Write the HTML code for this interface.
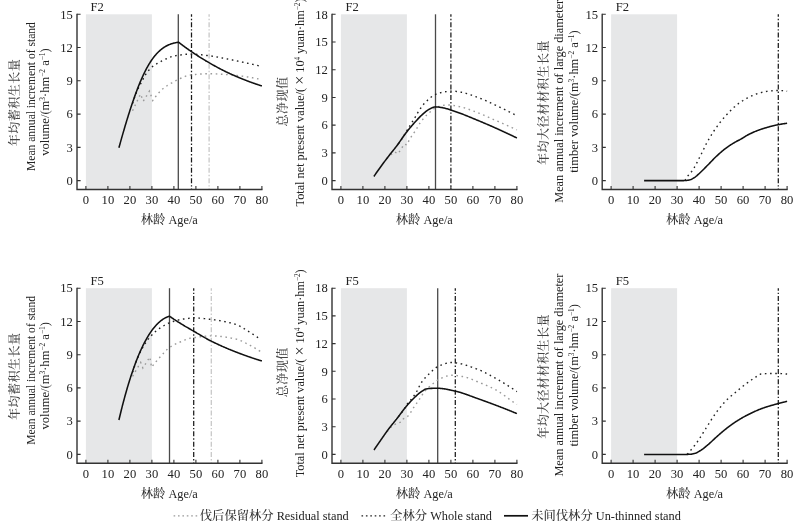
<!DOCTYPE html>
<html lang="zh"><head><meta charset="utf-8"><title>Figure</title>
<style>
html,body{margin:0;padding:0;background:#fff;}
body{width:800px;height:523px;overflow:hidden;}
svg{display:block;}
text{font-family:"Liberation Serif","Noto Serif CJK SC",serif;fill:#222;}
.tk{font-size:12.6px;}
.xl{font-size:12.3px;}
.lg{font-size:12.3px;}
.ylat{font-size:12.3px;}
.ycjk{font-size:12.1px;letter-spacing:0.4px;font-family:"Liberation Serif","Noto Serif CJK SC",serif;fill:#444;font-weight:500;}
.cjk{font-family:"Liberation Serif","Noto Serif CJK SC",serif;fill:#333;font-weight:500;}
.sup{font-size:7.2px;}
.tm{font-size:16px;}
</style></head><body>
<svg width="800" height="523" viewBox="0 0 800 523">
<rect width="800" height="523" fill="#fff"/>
<g>
<rect x="85.9" y="14.3" width="66.0" height="175.2" fill="#e6e7e8"/>
<line x1="178.30" y1="14.3" x2="178.30" y2="189.5" stroke="#4a4a4a" stroke-width="1.3"/>
<line x1="191.50" y1="14.3" x2="191.50" y2="189.5" stroke="#1a1a1a" stroke-width="1.25" stroke-dasharray="5 2 1.4 2" stroke-dashoffset="2.5"/>
<line x1="209.10" y1="14.3" x2="209.10" y2="189.5" stroke="#c6c6c6" stroke-width="1.25" stroke-dasharray="5 2 1.4 2" stroke-dashoffset="2.5"/>
<path d="M132.54,110.75 L140.46,94.12 L143.32,101.11 L149.48,91.13 L152.78,100.55 L152.78,100.55 L153.33,99.77 L153.88,99.01 L154.43,98.26 L154.97,97.52 L155.52,96.79 L156.07,96.08 L156.62,95.39 L157.17,94.71 L157.72,94.05 L158.26,93.41 L158.81,92.78 L159.36,92.17 L159.91,91.58 L160.46,91.01 L161.01,90.46 L161.55,89.94 L162.10,89.43 L162.65,88.94 L163.20,88.48 L163.75,88.03 L164.30,87.61 L164.84,87.20 L165.39,86.81 L165.94,86.43 L166.49,86.07 L167.04,85.72 L167.59,85.37 L168.13,85.04 L168.68,84.71 L169.23,84.39 L169.78,84.08 L170.33,83.76 L170.88,83.45 L171.42,83.13 L171.97,82.82 L172.52,82.50 L173.07,82.18 L173.62,81.86 L174.17,81.54 L174.71,81.23 L175.26,80.92 L175.81,80.62 L176.36,80.33 L176.91,80.05 L177.46,79.77 L178.00,79.51 L178.55,79.27 L179.10,79.02 L179.65,78.77 L180.20,78.51 L180.75,78.26 L181.29,78.01 L181.84,77.76 L182.39,77.52 L182.94,77.28 L183.49,77.04 L184.04,76.81 L184.58,76.60 L185.13,76.39 L185.68,76.19 L186.23,76.00 L186.78,75.83 L187.33,75.67 L187.87,75.52 L188.42,75.40 L188.97,75.29 L189.52,75.20 L190.07,75.12 L190.62,75.05 L191.16,74.98 L191.71,74.92 L192.26,74.85 L192.81,74.78 L193.36,74.72 L193.91,74.66 L194.45,74.60 L195.00,74.54 L195.55,74.48 L196.10,74.42 L196.65,74.37 L197.20,74.32 L197.74,74.27 L198.29,74.22 L198.84,74.17 L199.39,74.13 L199.94,74.09 L200.49,74.05 L201.03,74.01 L201.58,73.97 L202.13,73.94 L202.68,73.91 L203.23,73.88 L203.78,73.85 L204.32,73.83 L204.87,73.81 L205.42,73.79 L205.97,73.77 L206.52,73.76 L207.07,73.74 L207.61,73.73 L208.16,73.73 L208.71,73.73 L209.26,73.72 L209.81,73.73 L210.36,73.73 L210.90,73.74 L211.45,73.75 L212.00,73.76 L212.55,73.77 L213.10,73.78 L213.65,73.80 L214.19,73.82 L214.74,73.84 L215.29,73.86 L215.84,73.88 L216.39,73.91 L216.94,73.94 L217.48,73.96 L218.03,73.99 L218.58,74.02 L219.13,74.06 L219.68,74.09 L220.23,74.12 L220.77,74.16 L221.32,74.20 L221.87,74.23 L222.42,74.27 L222.97,74.31 L223.52,74.35 L224.06,74.39 L224.61,74.43 L225.16,74.48 L225.71,74.52 L226.26,74.56 L226.81,74.60 L227.35,74.65 L227.90,74.69 L228.45,74.73 L229.00,74.78 L229.55,74.82 L230.10,74.86 L230.64,74.91 L231.19,74.95 L231.74,75.00 L232.29,75.04 L232.84,75.09 L233.39,75.14 L233.93,75.19 L234.48,75.24 L235.03,75.30 L235.58,75.35 L236.13,75.41 L236.68,75.47 L237.22,75.53 L237.77,75.59 L238.32,75.66 L238.87,75.72 L239.42,75.79 L239.97,75.86 L240.51,75.93 L241.06,76.00 L241.61,76.07 L242.16,76.15 L242.71,76.22 L243.26,76.30 L243.80,76.38 L244.35,76.46 L244.90,76.54 L245.45,76.62 L246.00,76.70 L246.55,76.79 L247.09,76.87 L247.64,76.96 L248.19,77.05 L248.74,77.14 L249.29,77.23 L249.84,77.32 L250.38,77.41 L250.93,77.51 L251.48,77.60 L252.03,77.70 L252.58,77.80 L253.13,77.89 L253.67,77.99 L254.22,78.09 L254.77,78.20 L255.32,78.30 L255.87,78.40 L256.42,78.51 L256.96,78.61 L257.51,78.72 L258.06,78.83 L258.61,78.93 L259.16,79.04 L259.71,79.15 L260.25,79.26 L260.80,79.37 L261.35,79.49 L261.90,79.60" fill="none" stroke="#9a9a9a" stroke-width="1.4" stroke-dasharray="1.6 3.6"/>
<path d="M132.54,103.44 L133.19,101.44 L133.84,99.51 L134.49,97.65 L135.14,95.86 L135.79,94.14 L136.44,92.51 L137.09,90.96 L137.74,89.50 L138.39,88.13 L139.04,86.82 L139.69,85.56 L140.34,84.33 L140.99,83.11 L141.64,81.89 L142.29,80.63 L142.94,79.37 L143.59,78.12 L144.24,76.90 L144.89,75.75 L145.54,74.69 L146.19,73.73 L146.84,72.82 L147.49,71.95 L148.14,71.12 L148.79,70.32 L149.44,69.56 L150.09,68.85 L150.74,68.17 L151.39,67.54 L152.04,66.95 L152.69,66.41 L153.34,65.93 L153.99,65.48 L154.64,65.05 L155.29,64.63 L155.94,64.23 L156.59,63.83 L157.24,63.44 L157.89,63.06 L158.54,62.69 L159.19,62.33 L159.84,61.97 L160.49,61.63 L161.14,61.29 L161.79,60.96 L162.44,60.64 L163.09,60.32 L163.74,60.01 L164.39,59.69 L165.04,59.37 L165.69,59.06 L166.34,58.75 L166.99,58.45 L167.64,58.15 L168.29,57.86 L168.94,57.59 L169.59,57.33 L170.24,57.08 L170.89,56.86 L171.54,56.65 L172.19,56.47 L172.84,56.31 L173.49,56.16 L174.14,56.02 L174.79,55.89 L175.44,55.77 L176.09,55.66 L176.74,55.55 L177.39,55.45 L178.04,55.36 L178.69,55.27 L179.34,55.17 L179.99,55.08 L180.64,54.98 L181.29,54.89 L181.94,54.79 L182.59,54.70 L183.24,54.61 L183.89,54.53 L184.54,54.45 L185.19,54.37 L185.84,54.31 L186.49,54.25 L187.14,54.20 L187.79,54.16 L188.44,54.13 L189.09,54.11 L189.74,54.10 L190.39,54.10 L191.04,54.10 L191.69,54.10 L192.34,54.11 L192.99,54.12 L193.64,54.14 L194.29,54.17 L194.94,54.20 L195.59,54.24 L196.24,54.28 L196.89,54.33 L197.55,54.39 L198.20,54.45 L198.85,54.51 L199.50,54.58 L200.15,54.65 L200.80,54.72 L201.45,54.79 L202.10,54.87 L202.75,54.95 L203.40,55.03 L204.05,55.12 L204.70,55.20 L205.35,55.28 L206.00,55.37 L206.65,55.45 L207.30,55.54 L207.95,55.62 L208.60,55.70 L209.25,55.78 L209.90,55.86 L210.55,55.95 L211.20,56.04 L211.85,56.13 L212.50,56.23 L213.15,56.33 L213.80,56.43 L214.45,56.54 L215.10,56.65 L215.75,56.76 L216.40,56.87 L217.05,56.99 L217.70,57.10 L218.35,57.22 L219.00,57.34 L219.65,57.47 L220.30,57.59 L220.95,57.72 L221.60,57.84 L222.25,57.97 L222.90,58.10 L223.55,58.23 L224.20,58.36 L224.85,58.49 L225.50,58.63 L226.15,58.76 L226.80,58.89 L227.45,59.02 L228.10,59.15 L228.75,59.28 L229.40,59.42 L230.05,59.55 L230.70,59.68 L231.35,59.80 L232.00,59.93 L232.65,60.06 L233.30,60.19 L233.95,60.32 L234.60,60.46 L235.25,60.59 L235.90,60.72 L236.55,60.85 L237.20,60.99 L237.85,61.12 L238.50,61.26 L239.15,61.39 L239.80,61.53 L240.45,61.66 L241.10,61.80 L241.75,61.94 L242.40,62.08 L243.05,62.22 L243.70,62.36 L244.35,62.50 L245.00,62.64 L245.65,62.78 L246.30,62.92 L246.95,63.07 L247.60,63.21 L248.25,63.35 L248.90,63.50 L249.55,63.64 L250.20,63.79 L250.85,63.93 L251.50,64.08 L252.15,64.23 L252.80,64.38 L253.45,64.53 L254.10,64.68 L254.75,64.83 L255.40,64.98 L256.05,65.13 L256.70,65.28 L257.35,65.43 L258.00,65.59 L258.65,65.74 L259.30,65.89 L259.95,66.05 L260.60,66.21 L261.25,66.36 L261.90,66.52" fill="none" stroke="#222" stroke-width="1.4" stroke-dasharray="1.6 3.6"/>
<path d="M118.90,147.82 L119.40,146.00 L119.90,144.20 L120.40,142.41 L120.90,140.63 L121.40,138.86 L121.89,137.09 L122.39,135.34 L122.89,133.61 L123.39,131.88 L123.89,130.17 L124.39,128.46 L124.89,126.77 L125.39,125.09 L125.89,123.43 L126.39,121.78 L126.89,120.14 L127.39,118.51 L127.88,116.90 L128.38,115.30 L128.88,113.72 L129.38,112.15 L129.88,110.59 L130.38,109.05 L130.88,107.52 L131.38,106.01 L131.88,104.52 L132.38,103.04 L132.88,101.57 L133.38,100.13 L133.87,98.69 L134.37,97.28 L134.87,95.88 L135.37,94.50 L135.87,93.14 L136.37,91.79 L136.87,90.46 L137.37,89.15 L137.87,87.86 L138.37,86.58 L138.87,85.33 L139.37,84.09 L139.86,82.87 L140.36,81.67 L140.86,80.49 L141.36,79.33 L141.86,78.19 L142.36,77.07 L142.86,75.97 L143.36,74.89 L143.86,73.84 L144.36,72.80 L144.86,71.78 L145.36,70.79 L145.85,69.82 L146.35,68.87 L146.85,67.94 L147.35,67.03 L147.85,66.14 L148.35,65.28 L148.85,64.43 L149.35,63.61 L149.85,62.81 L150.35,62.02 L150.85,61.26 L151.35,60.52 L151.84,59.79 L152.34,59.08 L152.84,58.40 L153.34,57.73 L153.84,57.08 L154.34,56.45 L154.84,55.83 L155.34,55.23 L155.84,54.65 L156.34,54.09 L156.84,53.54 L157.34,53.01 L157.83,52.50 L158.33,52.00 L158.83,51.52 L159.33,51.06 L159.83,50.60 L160.33,50.17 L160.83,49.75 L161.33,49.34 L161.83,48.95 L162.33,48.57 L162.83,48.20 L163.33,47.85 L163.82,47.51 L164.32,47.19 L164.82,46.87 L165.32,46.57 L165.82,46.28 L166.32,46.01 L166.82,45.74 L167.32,45.49 L167.82,45.25 L168.32,45.02 L168.82,44.80 L169.32,44.59 L169.81,44.39 L170.31,44.20 L170.81,44.01 L171.31,43.84 L171.81,43.68 L172.31,43.53 L172.81,43.38 L173.31,43.25 L173.81,43.12 L174.31,43.00 L174.81,42.89 L175.31,42.78 L175.80,42.68 L176.30,42.59 L176.80,42.51 L177.30,42.43 L177.80,42.36 L178.30,42.29 L178.30,42.02 L178.72,42.34 L179.14,42.67 L179.56,42.99 L179.98,43.31 L180.40,43.63 L180.82,43.95 L181.24,44.27 L181.66,44.59 L182.08,44.90 L182.50,45.22 L182.92,45.53 L183.34,45.85 L183.76,46.16 L184.18,46.47 L184.60,46.78 L185.02,47.09 L185.44,47.39 L185.86,47.70 L186.28,48.00 L186.70,48.30 L187.12,48.61 L187.54,48.91 L187.96,49.21 L188.38,49.50 L188.80,49.80 L189.22,50.09 L189.64,50.39 L190.06,50.68 L190.48,50.97 L190.90,51.26 L191.32,51.54 L191.74,51.83 L192.16,52.11 L192.58,52.40 L193.00,52.68 L193.42,52.96 L193.84,53.24 L194.26,53.52 L194.68,53.80 L195.10,54.08 L195.52,54.36 L195.94,54.63 L196.36,54.91 L196.78,55.18 L197.20,55.46 L197.62,55.73 L198.04,56.00 L198.46,56.27 L198.88,56.54 L199.31,56.81 L199.73,57.08 L200.15,57.34 L200.57,57.61 L200.99,57.87 L201.41,58.14 L201.83,58.40 L202.25,58.66 L202.67,58.92 L203.09,59.18 L203.51,59.44 L203.93,59.69 L204.35,59.95 L204.77,60.20 L205.19,60.46 L205.61,60.71 L206.03,60.96 L206.45,61.21 L206.87,61.45 L207.29,61.70 L207.71,61.95 L208.13,62.19 L208.55,62.43 L208.97,62.67 L209.39,62.91 L209.81,63.15 L210.23,63.39 L210.65,63.63 L211.07,63.87 L211.49,64.10 L211.91,64.34 L212.33,64.58 L212.75,64.81 L213.17,65.05 L213.59,65.28 L214.01,65.52 L214.43,65.75 L214.85,65.98 L215.27,66.21 L215.69,66.44 L216.11,66.67 L216.53,66.90 L216.95,67.13 L217.37,67.36 L217.79,67.58 L218.21,67.81 L218.63,68.03 L219.05,68.25 L219.47,68.48 L219.89,68.70 L220.31,68.92 L220.73,69.14 L221.15,69.36 L221.57,69.57 L221.99,69.79 L222.41,70.01 L222.83,70.22 L223.25,70.43 L223.67,70.64 L224.09,70.85 L224.51,71.06 L224.93,71.27 L225.35,71.48 L225.77,71.68 L226.19,71.89 L226.61,72.09 L227.03,72.29 L227.45,72.49 L227.87,72.69 L228.29,72.89 L228.71,73.08 L229.13,73.28 L229.55,73.47 L229.97,73.66 L230.39,73.85 L230.81,74.04 L231.23,74.23 L231.65,74.41 L232.07,74.60 L232.49,74.78 L232.91,74.97 L233.33,75.15 L233.75,75.33 L234.17,75.52 L234.59,75.70 L235.01,75.88 L235.43,76.06 L235.85,76.24 L236.27,76.42 L236.69,76.60 L237.11,76.78 L237.53,76.96 L237.95,77.14 L238.37,77.31 L238.79,77.49 L239.21,77.66 L239.63,77.84 L240.05,78.01 L240.47,78.19 L240.89,78.36 L241.32,78.53 L241.74,78.70 L242.16,78.87 L242.58,79.04 L243.00,79.21 L243.42,79.38 L243.84,79.55 L244.26,79.71 L244.68,79.88 L245.10,80.04 L245.52,80.21 L245.94,80.37 L246.36,80.54 L246.78,80.70 L247.20,80.86 L247.62,81.02 L248.04,81.18 L248.46,81.34 L248.88,81.50 L249.30,81.65 L249.72,81.81 L250.14,81.96 L250.56,82.12 L250.98,82.27 L251.40,82.42 L251.82,82.58 L252.24,82.73 L252.66,82.88 L253.08,83.03 L253.50,83.17 L253.92,83.32 L254.34,83.47 L254.76,83.61 L255.18,83.76 L255.60,83.90 L256.02,84.04 L256.44,84.18 L256.86,84.32 L257.28,84.46 L257.70,84.60 L258.12,84.74 L258.54,84.87 L258.96,85.01 L259.38,85.14 L259.80,85.27 L260.22,85.40 L260.64,85.54 L261.06,85.66 L261.48,85.79 L261.90,85.92" fill="none" stroke="#111" stroke-width="1.55" stroke-linejoin="round"/>
<path d="M77.0,13.8 V189.5 H262.5" stroke="#333" stroke-width="1.4" fill="none" stroke-linejoin="miter"/>
<text class="tk" x="72.9" y="184.8" text-anchor="end">0</text>
<text class="tk" x="72.9" y="151.5" text-anchor="end">3</text>
<text class="tk" x="72.9" y="118.3" text-anchor="end">6</text>
<text class="tk" x="72.9" y="85.0" text-anchor="end">9</text>
<text class="tk" x="72.9" y="51.8" text-anchor="end">12</text>
<text class="tk" x="72.9" y="18.5" text-anchor="end">15</text>
<path d="M77.0,180.60 h3.6 M77.0,147.34 h3.6 M77.0,114.08 h3.6 M77.0,80.82 h3.6 M77.0,47.56 h3.6 M77.0,14.30 h3.6 " stroke="#333" stroke-width="1.1" fill="none"/>
<text class="tk" x="85.9" y="204.1" text-anchor="middle">0</text>
<text class="tk" x="107.9" y="204.1" text-anchor="middle">10</text>
<text class="tk" x="129.9" y="204.1" text-anchor="middle">20</text>
<text class="tk" x="151.9" y="204.1" text-anchor="middle">30</text>
<text class="tk" x="173.9" y="204.1" text-anchor="middle">40</text>
<text class="tk" x="195.9" y="204.1" text-anchor="middle">50</text>
<text class="tk" x="217.9" y="204.1" text-anchor="middle">60</text>
<text class="tk" x="239.9" y="204.1" text-anchor="middle">70</text>
<text class="tk" x="261.9" y="204.1" text-anchor="middle">80</text>
<path d="M85.90,189.5 v-3.6 M107.90,189.5 v-3.6 M129.90,189.5 v-3.6 M151.90,189.5 v-3.6 M173.90,189.5 v-3.6 M195.90,189.5 v-3.6 M217.90,189.5 v-3.6 M239.90,189.5 v-3.6 M261.90,189.5 v-3.6 " stroke="#333" stroke-width="1.1" fill="none"/>
<text class="tk" x="90.5" y="10.7">F2</text>
<text class="xl" x="169.3" y="223.9" text-anchor="middle"><tspan class="cjk">林龄</tspan> Age/a</text>
<text class="ycjk" transform="translate(19.0,102.5) rotate(-90)" text-anchor="middle">年均蓄积生长量</text>
<text class="ylat" transform="translate(34.9,96.6) rotate(-90)" text-anchor="middle" textLength="148.8" lengthAdjust="spacingAndGlyphs">Mean annual increment of stand</text>
<text class="ylat" transform="translate(48.6,102.0) rotate(-90)" text-anchor="middle" textLength="107.5" lengthAdjust="spacingAndGlyphs">volume/(m<tspan class="sup" dy="-4">3</tspan><tspan dy="4">·hm</tspan><tspan class="sup" dy="-4">−2</tspan><tspan dy="4"> a</tspan><tspan class="sup" dy="-4">−1</tspan><tspan dy="4">)</tspan></text>
</g>
<g>
<rect x="340.9" y="14.3" width="66.0" height="175.2" fill="#e6e7e8"/>
<line x1="435.50" y1="14.3" x2="435.50" y2="189.5" stroke="#4a4a4a" stroke-width="1.3"/>
<line x1="450.90" y1="14.3" x2="450.90" y2="189.5" stroke="#1a1a1a" stroke-width="1.25" stroke-dasharray="5 2 1.4 2" stroke-dashoffset="2.5"/>
<path d="M387.10,158.43 L389.96,155.47 L394.58,151.96 L398.10,153.62 L404.26,144.11 L406.90,144.85 L406.90,144.85 L407.45,143.64 L408.01,142.47 L408.56,141.34 L409.11,140.27 L409.66,139.27 L410.22,138.34 L410.77,137.46 L411.32,136.62 L411.87,135.80 L412.43,135.01 L412.98,134.23 L413.53,133.45 L414.09,132.65 L414.64,131.84 L415.19,131.00 L415.74,130.13 L416.30,129.26 L416.85,128.37 L417.40,127.46 L417.96,126.55 L418.51,125.60 L419.06,124.59 L419.61,123.61 L420.17,122.77 L420.72,122.01 L421.27,121.28 L421.82,120.58 L422.38,119.89 L422.93,119.22 L423.48,118.58 L424.04,117.95 L424.59,117.34 L425.14,116.74 L425.69,116.16 L426.25,115.60 L426.80,115.05 L427.35,114.51 L427.91,113.98 L428.46,113.47 L429.01,112.96 L429.56,112.46 L430.12,111.98 L430.67,111.50 L431.22,111.02 L431.77,110.56 L432.33,110.09 L432.88,109.61 L433.43,109.15 L433.99,108.71 L434.54,108.31 L435.09,107.99 L435.64,107.74 L436.20,107.53 L436.75,107.32 L437.30,107.11 L437.85,106.91 L438.41,106.72 L438.96,106.53 L439.51,106.35 L440.07,106.18 L440.62,106.02 L441.17,105.87 L441.72,105.72 L442.28,105.59 L442.83,105.47 L443.38,105.36 L443.94,105.26 L444.49,105.17 L445.04,105.10 L445.59,105.03 L446.15,104.99 L446.70,104.95 L447.25,104.94 L447.80,104.93 L448.36,104.94 L448.91,104.97 L449.46,105.00 L450.02,105.04 L450.57,105.09 L451.12,105.15 L451.67,105.22 L452.23,105.29 L452.78,105.37 L453.33,105.46 L453.88,105.55 L454.44,105.65 L454.99,105.75 L455.54,105.86 L456.10,105.96 L456.65,106.07 L457.20,106.19 L457.75,106.30 L458.31,106.41 L458.86,106.52 L459.41,106.63 L459.97,106.74 L460.52,106.86 L461.07,106.98 L461.62,107.11 L462.18,107.25 L462.73,107.39 L463.28,107.54 L463.83,107.70 L464.39,107.86 L464.94,108.03 L465.49,108.20 L466.05,108.38 L466.60,108.56 L467.15,108.74 L467.70,108.93 L468.26,109.12 L468.81,109.32 L469.36,109.52 L469.92,109.72 L470.47,109.92 L471.02,110.13 L471.57,110.33 L472.13,110.54 L472.68,110.75 L473.23,110.96 L473.78,111.17 L474.34,111.39 L474.89,111.60 L475.44,111.81 L476.00,112.02 L476.55,112.23 L477.10,112.43 L477.65,112.64 L478.21,112.85 L478.76,113.07 L479.31,113.29 L479.86,113.51 L480.42,113.73 L480.97,113.96 L481.52,114.19 L482.08,114.42 L482.63,114.65 L483.18,114.89 L483.73,115.13 L484.29,115.37 L484.84,115.61 L485.39,115.85 L485.95,116.09 L486.50,116.34 L487.05,116.59 L487.60,116.83 L488.16,117.08 L488.71,117.33 L489.26,117.58 L489.81,117.82 L490.37,118.07 L490.92,118.32 L491.47,118.57 L492.03,118.82 L492.58,119.06 L493.13,119.31 L493.68,119.55 L494.24,119.80 L494.79,120.04 L495.34,120.28 L495.89,120.52 L496.45,120.76 L497.00,121.00 L497.55,121.24 L498.11,121.48 L498.66,121.73 L499.21,121.97 L499.76,122.21 L500.32,122.45 L500.87,122.69 L501.42,122.94 L501.98,123.18 L502.53,123.42 L503.08,123.66 L503.63,123.91 L504.19,124.15 L504.74,124.39 L505.29,124.64 L505.84,124.88 L506.40,125.12 L506.95,125.37 L507.50,125.61 L508.06,125.86 L508.61,126.10 L509.16,126.35 L509.71,126.59 L510.27,126.83 L510.82,127.08 L511.37,127.32 L511.93,127.57 L512.48,127.82 L513.03,128.06 L513.58,128.31 L514.14,128.55 L514.69,128.80 L515.24,129.05 L515.79,129.29 L516.35,129.54 L516.90,129.79" fill="none" stroke="#9a9a9a" stroke-width="1.4" stroke-dasharray="1.6 3.6"/>
<path d="M398.10,144.11 L398.70,143.31 L399.29,142.50 L399.89,141.66 L400.49,140.81 L401.08,139.95 L401.68,139.06 L402.28,138.16 L402.88,137.25 L403.47,136.33 L404.07,135.40 L404.67,134.46 L405.26,133.49 L405.86,132.48 L406.46,131.46 L407.05,130.45 L407.65,129.45 L408.25,128.46 L408.85,127.46 L409.44,126.48 L410.04,125.50 L410.64,124.53 L411.23,123.57 L411.83,122.63 L412.43,121.70 L413.02,120.75 L413.62,119.80 L414.22,118.81 L414.82,117.79 L415.41,116.76 L416.01,115.72 L416.61,114.68 L417.20,113.65 L417.80,112.63 L418.40,111.64 L418.99,110.67 L419.59,109.75 L420.19,108.87 L420.79,108.02 L421.38,107.18 L421.98,106.36 L422.58,105.56 L423.17,104.79 L423.77,104.06 L424.37,103.37 L424.96,102.73 L425.56,102.13 L426.16,101.54 L426.76,100.95 L427.35,100.38 L427.95,99.81 L428.55,99.26 L429.14,98.72 L429.74,98.20 L430.34,97.70 L430.93,97.22 L431.53,96.76 L432.13,96.32 L432.73,95.91 L433.32,95.53 L433.92,95.18 L434.52,94.85 L435.11,94.57 L435.71,94.32 L436.31,94.08 L436.90,93.85 L437.50,93.64 L438.10,93.43 L438.69,93.23 L439.29,93.05 L439.89,92.87 L440.49,92.71 L441.08,92.56 L441.68,92.41 L442.28,92.28 L442.87,92.16 L443.47,92.05 L444.07,91.94 L444.66,91.85 L445.26,91.76 L445.86,91.66 L446.46,91.57 L447.05,91.49 L447.65,91.41 L448.25,91.33 L448.84,91.26 L449.44,91.20 L450.04,91.15 L450.63,91.11 L451.23,91.09 L451.83,91.08 L452.43,91.08 L453.02,91.10 L453.62,91.13 L454.22,91.17 L454.81,91.23 L455.41,91.29 L456.01,91.37 L456.60,91.45 L457.20,91.54 L457.80,91.63 L458.40,91.73 L458.99,91.84 L459.59,91.95 L460.19,92.06 L460.78,92.16 L461.38,92.27 L461.98,92.38 L462.57,92.50 L463.17,92.62 L463.77,92.75 L464.37,92.90 L464.96,93.05 L465.56,93.21 L466.16,93.37 L466.75,93.55 L467.35,93.73 L467.95,93.92 L468.54,94.11 L469.14,94.31 L469.74,94.51 L470.34,94.71 L470.93,94.93 L471.53,95.14 L472.13,95.35 L472.72,95.57 L473.32,95.79 L473.92,96.01 L474.51,96.24 L475.11,96.46 L475.71,96.68 L476.31,96.90 L476.90,97.12 L477.50,97.34 L478.10,97.56 L478.69,97.78 L479.29,98.01 L479.89,98.24 L480.48,98.48 L481.08,98.72 L481.68,98.96 L482.27,99.21 L482.87,99.45 L483.47,99.71 L484.07,99.96 L484.66,100.22 L485.26,100.47 L485.86,100.73 L486.45,101.00 L487.05,101.26 L487.65,101.53 L488.24,101.79 L488.84,102.06 L489.44,102.33 L490.04,102.60 L490.63,102.88 L491.23,103.15 L491.83,103.42 L492.42,103.70 L493.02,103.97 L493.62,104.25 L494.21,104.52 L494.81,104.80 L495.41,105.08 L496.01,105.35 L496.60,105.63 L497.20,105.91 L497.80,106.19 L498.39,106.47 L498.99,106.76 L499.59,107.04 L500.18,107.33 L500.78,107.61 L501.38,107.90 L501.98,108.19 L502.57,108.48 L503.17,108.77 L503.77,109.07 L504.36,109.36 L504.96,109.66 L505.56,109.96 L506.15,110.25 L506.75,110.55 L507.35,110.85 L507.95,111.16 L508.54,111.46 L509.14,111.76 L509.74,112.07 L510.33,112.38 L510.93,112.68 L511.53,112.99 L512.12,113.30 L512.72,113.62 L513.32,113.93 L513.92,114.24 L514.51,114.56 L515.11,114.88 L515.71,115.20 L516.30,115.51 L516.90,115.84" fill="none" stroke="#222" stroke-width="1.4" stroke-dasharray="1.6 3.6"/>
<path d="M373.90,176.44 L374.62,175.39 L375.34,174.35 L376.06,173.31 L376.77,172.28 L377.49,171.25 L378.21,170.23 L378.93,169.22 L379.65,168.22 L380.37,167.22 L381.09,166.22 L381.80,165.24 L382.52,164.26 L383.24,163.28 L383.96,162.32 L384.68,161.36 L385.40,160.40 L386.12,159.45 L386.83,158.50 L387.55,157.56 L388.27,156.63 L388.99,155.69 L389.71,154.76 L390.43,153.85 L391.15,152.95 L391.86,152.05 L392.58,151.16 L393.30,150.27 L394.02,149.38 L394.74,148.48 L395.46,147.56 L396.18,146.63 L396.89,145.68 L397.61,144.70 L398.33,143.70 L399.05,142.69 L399.77,141.66 L400.49,140.63 L401.21,139.59 L401.93,138.56 L402.64,137.52 L403.36,136.50 L404.08,135.49 L404.80,134.50 L405.52,133.52 L406.24,132.57 L406.96,131.65 L407.67,130.75 L408.39,129.85 L409.11,128.97 L409.83,128.09 L410.55,127.23 L411.27,126.38 L411.99,125.54 L412.70,124.71 L413.42,123.88 L414.14,123.07 L414.86,122.27 L415.58,121.48 L416.30,120.69 L417.02,119.91 L417.73,119.13 L418.45,118.36 L419.17,117.61 L419.89,116.88 L420.61,116.17 L421.33,115.49 L422.05,114.84 L422.76,114.19 L423.48,113.55 L424.20,112.91 L424.92,112.29 L425.64,111.69 L426.36,111.12 L427.08,110.59 L427.79,110.11 L428.51,109.67 L429.23,109.29 L429.95,108.90 L430.67,108.51 L431.39,108.13 L432.11,107.78 L432.82,107.47 L433.54,107.21 L434.26,107.01 L434.98,106.90 L435.70,106.87 L436.42,106.90 L437.14,106.94 L437.85,107.00 L438.57,107.09 L439.29,107.18 L440.01,107.29 L440.73,107.40 L441.45,107.51 L442.17,107.62 L442.88,107.75 L443.60,107.89 L444.32,108.06 L445.04,108.24 L445.76,108.43 L446.48,108.64 L447.20,108.85 L447.92,109.07 L448.63,109.30 L449.35,109.53 L450.07,109.75 L450.79,109.98 L451.51,110.21 L452.23,110.43 L452.95,110.67 L453.66,110.91 L454.38,111.15 L455.10,111.40 L455.82,111.65 L456.54,111.90 L457.26,112.16 L457.98,112.42 L458.69,112.68 L459.41,112.95 L460.13,113.22 L460.85,113.49 L461.57,113.77 L462.29,114.05 L463.01,114.33 L463.72,114.61 L464.44,114.89 L465.16,115.18 L465.88,115.47 L466.60,115.76 L467.32,116.05 L468.04,116.35 L468.75,116.64 L469.47,116.93 L470.19,117.23 L470.91,117.53 L471.63,117.83 L472.35,118.12 L473.07,118.42 L473.78,118.72 L474.50,119.02 L475.22,119.32 L475.94,119.62 L476.66,119.91 L477.38,120.21 L478.10,120.51 L478.81,120.81 L479.53,121.10 L480.25,121.40 L480.97,121.71 L481.69,122.01 L482.41,122.31 L483.13,122.61 L483.84,122.92 L484.56,123.22 L485.28,123.53 L486.00,123.84 L486.72,124.15 L487.44,124.46 L488.16,124.77 L488.87,125.08 L489.59,125.39 L490.31,125.71 L491.03,126.02 L491.75,126.33 L492.47,126.65 L493.19,126.97 L493.91,127.29 L494.62,127.61 L495.34,127.93 L496.06,128.25 L496.78,128.57 L497.50,128.89 L498.22,129.22 L498.94,129.54 L499.65,129.87 L500.37,130.20 L501.09,130.52 L501.81,130.85 L502.53,131.18 L503.25,131.52 L503.97,131.85 L504.68,132.18 L505.40,132.52 L506.12,132.85 L506.84,133.19 L507.56,133.53 L508.28,133.86 L509.00,134.20 L509.71,134.54 L510.43,134.89 L511.15,135.23 L511.87,135.57 L512.59,135.92 L513.31,136.26 L514.03,136.61 L514.74,136.96 L515.46,137.31 L516.18,137.66 L516.90,138.01" fill="none" stroke="#111" stroke-width="1.55" stroke-linejoin="round"/>
<path d="M332.0,13.8 V189.5 H517.5" stroke="#333" stroke-width="1.4" fill="none" stroke-linejoin="miter"/>
<text class="tk" x="327.9" y="184.8" text-anchor="end">0</text>
<text class="tk" x="327.9" y="157.1" text-anchor="end">3</text>
<text class="tk" x="327.9" y="129.4" text-anchor="end">6</text>
<text class="tk" x="327.9" y="101.7" text-anchor="end">9</text>
<text class="tk" x="327.9" y="73.9" text-anchor="end">12</text>
<text class="tk" x="327.9" y="46.2" text-anchor="end">15</text>
<text class="tk" x="327.9" y="18.5" text-anchor="end">18</text>
<path d="M332.0,180.60 h3.6 M332.0,152.88 h3.6 M332.0,125.17 h3.6 M332.0,97.45 h3.6 M332.0,69.73 h3.6 M332.0,42.02 h3.6 M332.0,14.30 h3.6 " stroke="#333" stroke-width="1.1" fill="none"/>
<text class="tk" x="340.9" y="204.1" text-anchor="middle">0</text>
<text class="tk" x="362.9" y="204.1" text-anchor="middle">10</text>
<text class="tk" x="384.9" y="204.1" text-anchor="middle">20</text>
<text class="tk" x="406.9" y="204.1" text-anchor="middle">30</text>
<text class="tk" x="428.9" y="204.1" text-anchor="middle">40</text>
<text class="tk" x="450.9" y="204.1" text-anchor="middle">50</text>
<text class="tk" x="472.9" y="204.1" text-anchor="middle">60</text>
<text class="tk" x="494.9" y="204.1" text-anchor="middle">70</text>
<text class="tk" x="516.9" y="204.1" text-anchor="middle">80</text>
<path d="M340.90,189.5 v-3.6 M362.90,189.5 v-3.6 M384.90,189.5 v-3.6 M406.90,189.5 v-3.6 M428.90,189.5 v-3.6 M450.90,189.5 v-3.6 M472.90,189.5 v-3.6 M494.90,189.5 v-3.6 M516.90,189.5 v-3.6 " stroke="#333" stroke-width="1.1" fill="none"/>
<text class="tk" x="345.5" y="10.7">F2</text>
<text class="xl" x="424.3" y="223.9" text-anchor="middle"><tspan class="cjk">林龄</tspan> Age/a</text>
<text class="ycjk" transform="translate(286.9,101.5) rotate(-90)" text-anchor="middle">总净现值</text>
<text class="ylat" transform="translate(303.8,102.5) rotate(-90)" text-anchor="middle" textLength="208" lengthAdjust="spacingAndGlyphs">Total net present value/( <tspan class="tm" dy="1.5">×</tspan><tspan dy="-1.5"> 10</tspan><tspan class="sup" dy="-4">4</tspan><tspan dy="4"> yuan·hm</tspan><tspan class="sup" dy="-4">−2</tspan><tspan dy="4">)</tspan></text>
</g>
<g>
<rect x="611.1" y="14.3" width="66.0" height="175.2" fill="#e6e7e8"/>
<line x1="778.30" y1="14.3" x2="778.30" y2="189.5" stroke="#1a1a1a" stroke-width="1.25" stroke-dasharray="5 2 1.4 2" stroke-dashoffset="2.5"/>
<path d="M685.02,180.60 L685.53,179.50 L686.05,178.51 L686.56,177.69 L687.07,176.94 L687.58,176.24 L688.10,175.59 L688.61,174.98 L689.12,174.39 L689.64,173.82 L690.15,173.25 L690.66,172.67 L691.18,172.07 L691.69,171.45 L692.20,170.78 L692.71,170.07 L693.23,169.30 L693.74,168.48 L694.25,167.62 L694.77,166.72 L695.28,165.80 L695.79,164.85 L696.31,163.87 L696.82,162.88 L697.33,161.87 L697.84,160.86 L698.36,159.83 L698.87,158.81 L699.38,157.79 L699.90,156.77 L700.41,155.77 L700.92,154.78 L701.43,153.76 L701.95,152.73 L702.46,151.68 L702.97,150.63 L703.49,149.57 L704.00,148.50 L704.51,147.44 L705.03,146.39 L705.54,145.34 L706.05,144.31 L706.56,143.30 L707.08,142.32 L707.59,141.36 L708.10,140.44 L708.62,139.54 L709.13,138.67 L709.64,137.80 L710.16,136.94 L710.67,136.10 L711.18,135.27 L711.69,134.44 L712.21,133.63 L712.72,132.83 L713.23,132.04 L713.75,131.26 L714.26,130.49 L714.77,129.73 L715.28,128.99 L715.80,128.25 L716.31,127.52 L716.82,126.80 L717.34,126.09 L717.85,125.39 L718.36,124.70 L718.88,124.02 L719.39,123.35 L719.90,122.68 L720.41,122.03 L720.93,121.38 L721.44,120.74 L721.95,120.10 L722.47,119.48 L722.98,118.86 L723.49,118.25 L724.01,117.65 L724.52,117.05 L725.03,116.47 L725.54,115.89 L726.06,115.32 L726.57,114.76 L727.08,114.21 L727.60,113.66 L728.11,113.13 L728.62,112.60 L729.13,112.08 L729.65,111.56 L730.16,111.05 L730.67,110.54 L731.19,110.03 L731.70,109.53 L732.21,109.03 L732.73,108.54 L733.24,108.06 L733.75,107.58 L734.26,107.11 L734.78,106.65 L735.29,106.19 L735.80,105.74 L736.32,105.30 L736.83,104.87 L737.34,104.45 L737.86,104.04 L738.37,103.65 L738.88,103.26 L739.39,102.88 L739.91,102.52 L740.42,102.16 L740.93,101.82 L741.45,101.48 L741.96,101.15 L742.47,100.82 L742.99,100.51 L743.50,100.19 L744.01,99.89 L744.52,99.59 L745.04,99.30 L745.55,99.01 L746.06,98.73 L746.58,98.45 L747.09,98.18 L747.60,97.92 L748.11,97.66 L748.63,97.41 L749.14,97.16 L749.65,96.91 L750.17,96.67 L750.68,96.43 L751.19,96.19 L751.71,95.95 L752.22,95.72 L752.73,95.49 L753.24,95.26 L753.76,95.04 L754.27,94.82 L754.78,94.60 L755.30,94.40 L755.81,94.20 L756.32,94.00 L756.84,93.81 L757.35,93.63 L757.86,93.46 L758.37,93.30 L758.89,93.15 L759.40,93.01 L759.91,92.88 L760.43,92.74 L760.94,92.61 L761.45,92.49 L761.96,92.36 L762.48,92.24 L762.99,92.12 L763.50,92.01 L764.02,91.90 L764.53,91.80 L765.04,91.70 L765.56,91.60 L766.07,91.51 L766.58,91.43 L767.09,91.35 L767.61,91.28 L768.12,91.21 L768.63,91.15 L769.15,91.10 L769.66,91.04 L770.17,90.99 L770.69,90.94 L771.20,90.88 L771.71,90.83 L772.22,90.78 L772.74,90.74 L773.25,90.69 L773.76,90.65 L774.28,90.61 L774.79,90.58 L775.30,90.55 L775.81,90.52 L776.33,90.50 L776.84,90.48 L777.35,90.47 L777.87,90.47 L778.38,90.47 L778.89,90.47 L779.41,90.48 L779.92,90.50 L780.43,90.52 L780.94,90.55 L781.46,90.58 L781.97,90.62 L782.48,90.66 L783.00,90.71 L783.51,90.76 L784.02,90.81 L784.54,90.87 L785.05,90.94 L785.56,91.01 L786.07,91.08 L786.59,91.16 L787.10,91.24" fill="none" stroke="#222" stroke-width="1.4" stroke-dasharray="1.6 3.6"/>
<path d="M644.10,180.60 L683.70,180.60 L683.70,180.60 L684.22,180.59 L684.74,180.57 L685.26,180.54 L685.78,180.50 L686.30,180.45 L686.82,180.40 L687.34,180.34 L687.86,180.27 L688.38,180.17 L688.90,180.06 L689.42,179.94 L689.94,179.80 L690.45,179.64 L690.97,179.44 L691.49,179.21 L692.01,178.95 L692.53,178.67 L693.05,178.37 L693.57,178.06 L694.09,177.74 L694.61,177.41 L695.13,177.06 L695.65,176.68 L696.17,176.26 L696.69,175.83 L697.21,175.38 L697.73,174.91 L698.25,174.43 L698.77,173.94 L699.29,173.44 L699.81,172.95 L700.33,172.46 L700.85,171.98 L701.37,171.50 L701.89,171.00 L702.41,170.50 L702.93,169.99 L703.44,169.48 L703.96,168.96 L704.48,168.44 L705.00,167.91 L705.52,167.39 L706.04,166.86 L706.56,166.33 L707.08,165.80 L707.60,165.27 L708.12,164.75 L708.64,164.22 L709.16,163.69 L709.68,163.15 L710.20,162.61 L710.72,162.06 L711.24,161.52 L711.76,160.97 L712.28,160.42 L712.80,159.88 L713.32,159.35 L713.84,158.82 L714.36,158.29 L714.88,157.78 L715.40,157.28 L715.92,156.79 L716.43,156.30 L716.95,155.82 L717.47,155.34 L717.99,154.86 L718.51,154.39 L719.03,153.91 L719.55,153.45 L720.07,152.98 L720.59,152.53 L721.11,152.07 L721.63,151.62 L722.15,151.18 L722.67,150.75 L723.19,150.32 L723.71,149.89 L724.23,149.48 L724.75,149.07 L725.27,148.66 L725.79,148.27 L726.31,147.89 L726.83,147.51 L727.35,147.14 L727.87,146.77 L728.39,146.41 L728.91,146.06 L729.42,145.71 L729.94,145.36 L730.46,145.02 L730.98,144.69 L731.50,144.36 L732.02,144.03 L732.54,143.71 L733.06,143.39 L733.58,143.08 L734.10,142.77 L734.62,142.47 L735.14,142.17 L735.66,141.87 L736.18,141.58 L736.70,141.28 L737.22,141.00 L737.74,140.72 L738.26,140.46 L738.78,140.20 L739.30,139.95 L739.82,139.69 L740.34,139.41 L740.86,139.12 L741.38,138.82 L741.89,138.52 L742.41,138.21 L742.93,137.89 L743.45,137.57 L743.97,137.25 L744.49,136.92 L745.01,136.60 L745.53,136.28 L746.05,135.96 L746.57,135.65 L747.09,135.34 L747.61,135.04 L748.13,134.74 L748.65,134.46 L749.17,134.19 L749.69,133.93 L750.21,133.68 L750.73,133.43 L751.25,133.19 L751.77,132.96 L752.29,132.72 L752.81,132.49 L753.33,132.26 L753.85,132.04 L754.37,131.82 L754.88,131.60 L755.40,131.39 L755.92,131.18 L756.44,130.97 L756.96,130.77 L757.48,130.57 L758.00,130.37 L758.52,130.18 L759.04,129.99 L759.56,129.80 L760.08,129.62 L760.60,129.44 L761.12,129.26 L761.64,129.09 L762.16,128.92 L762.68,128.76 L763.20,128.59 L763.72,128.43 L764.24,128.27 L764.76,128.11 L765.28,127.95 L765.80,127.79 L766.32,127.64 L766.84,127.49 L767.36,127.34 L767.87,127.19 L768.39,127.04 L768.91,126.90 L769.43,126.76 L769.95,126.62 L770.47,126.48 L770.99,126.34 L771.51,126.21 L772.03,126.08 L772.55,125.95 L773.07,125.82 L773.59,125.70 L774.11,125.57 L774.63,125.45 L775.15,125.34 L775.67,125.22 L776.19,125.11 L776.71,125.00 L777.23,124.89 L777.75,124.79 L778.27,124.69 L778.79,124.59 L779.31,124.49 L779.83,124.39 L780.35,124.30 L780.86,124.21 L781.38,124.12 L781.90,124.03 L782.42,123.95 L782.94,123.86 L783.46,123.78 L783.98,123.71 L784.50,123.63 L785.02,123.55 L785.54,123.48 L786.06,123.41 L786.58,123.35 L787.10,123.28" fill="none" stroke="#111" stroke-width="1.55" stroke-linejoin="round"/>
<path d="M602.2,13.8 V189.5 H787.7" stroke="#333" stroke-width="1.4" fill="none" stroke-linejoin="miter"/>
<text class="tk" x="598.1" y="184.8" text-anchor="end">0</text>
<text class="tk" x="598.1" y="151.5" text-anchor="end">3</text>
<text class="tk" x="598.1" y="118.3" text-anchor="end">6</text>
<text class="tk" x="598.1" y="85.0" text-anchor="end">9</text>
<text class="tk" x="598.1" y="51.8" text-anchor="end">12</text>
<text class="tk" x="598.1" y="18.5" text-anchor="end">15</text>
<path d="M602.2,180.60 h3.6 M602.2,147.34 h3.6 M602.2,114.08 h3.6 M602.2,80.82 h3.6 M602.2,47.56 h3.6 M602.2,14.30 h3.6 " stroke="#333" stroke-width="1.1" fill="none"/>
<text class="tk" x="611.1" y="204.1" text-anchor="middle">0</text>
<text class="tk" x="633.1" y="204.1" text-anchor="middle">10</text>
<text class="tk" x="655.1" y="204.1" text-anchor="middle">20</text>
<text class="tk" x="677.1" y="204.1" text-anchor="middle">30</text>
<text class="tk" x="699.1" y="204.1" text-anchor="middle">40</text>
<text class="tk" x="721.1" y="204.1" text-anchor="middle">50</text>
<text class="tk" x="743.1" y="204.1" text-anchor="middle">60</text>
<text class="tk" x="765.1" y="204.1" text-anchor="middle">70</text>
<text class="tk" x="787.1" y="204.1" text-anchor="middle">80</text>
<path d="M611.10,189.5 v-3.6 M633.10,189.5 v-3.6 M655.10,189.5 v-3.6 M677.10,189.5 v-3.6 M699.10,189.5 v-3.6 M721.10,189.5 v-3.6 M743.10,189.5 v-3.6 M765.10,189.5 v-3.6 M787.10,189.5 v-3.6 " stroke="#333" stroke-width="1.1" fill="none"/>
<text class="tk" x="615.7" y="10.7">F2</text>
<text class="xl" x="694.5" y="223.9" text-anchor="middle"><tspan class="cjk">林龄</tspan> Age/a</text>
<text class="ycjk" transform="translate(548.3,102.6) rotate(-90)" text-anchor="middle">年均大径材材积生长量</text>
<text class="ylat" transform="translate(563.0,101.3) rotate(-90)" text-anchor="middle" textLength="203" lengthAdjust="spacingAndGlyphs">Mean annual increment of large diameter</text>
<text class="ylat" transform="translate(577.6,101.5) rotate(-90)" text-anchor="middle" textLength="142.3" lengthAdjust="spacingAndGlyphs">timber volume/(m<tspan class="sup" dy="-4">3</tspan><tspan dy="4">·hm</tspan><tspan class="sup" dy="-4">−2</tspan><tspan dy="4"> a</tspan><tspan class="sup" dy="-4">−1</tspan><tspan dy="4">)</tspan></text>
</g>
<g>
<rect x="85.9" y="288.2" width="66.0" height="175.1" fill="#e6e7e8"/>
<line x1="169.50" y1="288.2" x2="169.50" y2="463.3" stroke="#4a4a4a" stroke-width="1.3"/>
<line x1="193.70" y1="288.2" x2="193.70" y2="463.3" stroke="#1a1a1a" stroke-width="1.25" stroke-dasharray="5 2 1.4 2" stroke-dashoffset="2.5"/>
<line x1="211.30" y1="288.2" x2="211.30" y2="463.3" stroke="#c6c6c6" stroke-width="1.25" stroke-dasharray="5 2 1.4 2" stroke-dashoffset="2.5"/>
<path d="M132.54,376.29 L140.68,362.44 L142.88,367.98 L149.81,357.12 L151.57,367.20 L151.57,367.20 L152.12,366.50 L152.67,365.81 L153.22,365.12 L153.77,364.44 L154.32,363.76 L154.87,363.09 L155.42,362.42 L155.97,361.77 L156.52,361.11 L157.07,360.47 L157.62,359.83 L158.17,359.19 L158.72,358.57 L159.27,357.94 L159.82,357.33 L160.37,356.72 L160.92,356.12 L161.47,355.52 L162.02,354.91 L162.57,354.29 L163.12,353.67 L163.67,353.06 L164.22,352.45 L164.77,351.84 L165.32,351.25 L165.87,350.68 L166.42,350.12 L166.97,349.58 L167.52,349.07 L168.07,348.59 L168.62,348.13 L169.17,347.71 L169.72,347.33 L170.27,346.96 L170.82,346.61 L171.37,346.27 L171.92,345.95 L172.47,345.64 L173.02,345.33 L173.57,345.04 L174.12,344.76 L174.67,344.49 L175.22,344.22 L175.77,343.96 L176.32,343.70 L176.87,343.45 L177.42,343.20 L177.97,342.96 L178.52,342.72 L179.07,342.48 L179.62,342.24 L180.17,342.00 L180.72,341.76 L181.27,341.51 L181.82,341.27 L182.37,341.02 L182.92,340.77 L183.47,340.53 L184.02,340.29 L184.57,340.06 L185.12,339.83 L185.67,339.61 L186.22,339.39 L186.77,339.19 L187.32,339.00 L187.87,338.82 L188.42,338.66 L188.97,338.51 L189.52,338.38 L190.07,338.26 L190.62,338.16 L191.17,338.07 L191.72,337.99 L192.27,337.91 L192.82,337.84 L193.37,337.77 L193.92,337.70 L194.47,337.63 L195.02,337.55 L195.57,337.48 L196.12,337.40 L196.67,337.32 L197.22,337.24 L197.77,337.16 L198.32,337.08 L198.87,337.00 L199.42,336.92 L199.97,336.85 L200.52,336.77 L201.07,336.69 L201.62,336.62 L202.17,336.55 L202.72,336.47 L203.27,336.41 L203.82,336.34 L204.37,336.28 L204.92,336.22 L205.47,336.16 L206.02,336.11 L206.57,336.06 L207.12,336.01 L207.67,335.97 L208.22,335.94 L208.77,335.91 L209.32,335.88 L209.87,335.87 L210.42,335.85 L210.97,335.85 L211.52,335.84 L212.07,335.85 L212.62,335.86 L213.17,335.87 L213.72,335.89 L214.27,335.91 L214.82,335.93 L215.37,335.96 L215.92,335.99 L216.47,336.03 L217.02,336.07 L217.57,336.11 L218.12,336.16 L218.67,336.21 L219.22,336.26 L219.77,336.32 L220.32,336.38 L220.87,336.44 L221.42,336.51 L221.97,336.58 L222.52,336.65 L223.07,336.72 L223.62,336.80 L224.17,336.88 L224.72,336.96 L225.27,337.04 L225.82,337.13 L226.37,337.22 L226.92,337.31 L227.47,337.40 L228.02,337.50 L228.57,337.60 L229.12,337.69 L229.67,337.80 L230.22,337.90 L230.77,338.00 L231.32,338.11 L231.87,338.21 L232.42,338.32 L232.97,338.43 L233.52,338.54 L234.07,338.65 L234.62,338.76 L235.17,338.88 L235.72,338.99 L236.27,339.12 L236.82,339.27 L237.37,339.42 L237.92,339.60 L238.47,339.78 L239.02,339.98 L239.57,340.18 L240.12,340.40 L240.67,340.63 L241.22,340.87 L241.77,341.11 L242.32,341.37 L242.87,341.63 L243.42,341.89 L243.97,342.16 L244.52,342.44 L245.07,342.72 L245.62,343.00 L246.17,343.28 L246.72,343.57 L247.27,343.85 L247.82,344.14 L248.37,344.42 L248.92,344.70 L249.47,344.98 L250.02,345.26 L250.57,345.55 L251.12,345.84 L251.67,346.14 L252.22,346.44 L252.77,346.75 L253.32,347.06 L253.87,347.38 L254.42,347.71 L254.97,348.03 L255.52,348.37 L256.07,348.70 L256.62,349.04 L257.17,349.39 L257.72,349.74 L258.27,350.09 L258.82,350.45 L259.37,350.81 L259.92,351.17 L260.47,351.54 L261.02,351.91" fill="none" stroke="#9a9a9a" stroke-width="1.4" stroke-dasharray="1.6 3.6"/>
<path d="M132.54,372.41 L133.18,370.40 L133.83,368.43 L134.47,366.52 L135.12,364.65 L135.76,362.85 L136.41,361.10 L137.05,359.41 L137.70,357.79 L138.34,356.24 L138.99,354.77 L139.63,353.37 L140.27,352.05 L140.92,350.77 L141.56,349.54 L142.21,348.35 L142.85,347.21 L143.50,346.10 L144.14,345.03 L144.79,344.00 L145.43,343.01 L146.07,342.05 L146.72,341.13 L147.36,340.24 L148.01,339.38 L148.65,338.57 L149.30,337.79 L149.94,337.05 L150.59,336.34 L151.23,335.65 L151.88,334.98 L152.52,334.33 L153.16,333.69 L153.81,333.07 L154.45,332.47 L155.10,331.89 L155.74,331.33 L156.39,330.79 L157.03,330.27 L157.68,329.77 L158.32,329.29 L158.97,328.82 L159.61,328.36 L160.25,327.92 L160.90,327.49 L161.54,327.08 L162.19,326.68 L162.83,326.29 L163.48,325.90 L164.12,325.52 L164.77,325.15 L165.41,324.79 L166.06,324.44 L166.70,324.11 L167.34,323.80 L167.99,323.50 L168.63,323.23 L169.28,322.96 L169.92,322.69 L170.57,322.44 L171.21,322.18 L171.86,321.94 L172.50,321.70 L173.14,321.47 L173.79,321.25 L174.43,321.04 L175.08,320.84 L175.72,320.65 L176.37,320.47 L177.01,320.30 L177.66,320.14 L178.30,320.00 L178.95,319.87 L179.59,319.74 L180.23,319.61 L180.88,319.49 L181.52,319.38 L182.17,319.27 L182.81,319.16 L183.46,319.06 L184.10,318.97 L184.75,318.87 L185.39,318.78 L186.04,318.69 L186.68,318.61 L187.32,318.53 L187.97,318.45 L188.61,318.38 L189.26,318.30 L189.90,318.23 L190.55,318.16 L191.19,318.08 L191.84,318.01 L192.48,317.95 L193.13,317.91 L193.77,317.89 L194.41,317.90 L195.06,317.91 L195.70,317.93 L196.35,317.95 L196.99,317.98 L197.64,318.01 L198.28,318.05 L198.93,318.09 L199.57,318.14 L200.21,318.19 L200.86,318.25 L201.50,318.31 L202.15,318.37 L202.79,318.44 L203.44,318.50 L204.08,318.58 L204.73,318.65 L205.37,318.72 L206.02,318.80 L206.66,318.88 L207.30,318.96 L207.95,319.03 L208.59,319.11 L209.24,319.19 L209.88,319.27 L210.53,319.35 L211.17,319.43 L211.82,319.51 L212.46,319.59 L213.11,319.67 L213.75,319.75 L214.39,319.84 L215.04,319.93 L215.68,320.02 L216.33,320.11 L216.97,320.21 L217.62,320.31 L218.26,320.41 L218.91,320.51 L219.55,320.62 L220.20,320.73 L220.84,320.84 L221.48,320.96 L222.13,321.07 L222.77,321.20 L223.42,321.32 L224.06,321.45 L224.71,321.58 L225.35,321.71 L226.00,321.85 L226.64,321.99 L227.28,322.14 L227.93,322.28 L228.57,322.44 L229.22,322.59 L229.86,322.75 L230.51,322.91 L231.15,323.08 L231.80,323.25 L232.44,323.43 L233.09,323.61 L233.73,323.79 L234.37,323.98 L235.02,324.17 L235.66,324.37 L236.31,324.59 L236.95,324.83 L237.60,325.09 L238.24,325.37 L238.89,325.67 L239.53,325.99 L240.18,326.33 L240.82,326.67 L241.46,327.04 L242.11,327.41 L242.75,327.79 L243.40,328.18 L244.04,328.58 L244.69,328.98 L245.33,329.39 L245.98,329.80 L246.62,330.21 L247.27,330.63 L247.91,331.04 L248.55,331.44 L249.20,331.84 L249.84,332.24 L250.49,332.64 L251.13,333.04 L251.78,333.45 L252.42,333.87 L253.07,334.29 L253.71,334.72 L254.35,335.15 L255.00,335.59 L255.64,336.03 L256.29,336.48 L256.93,336.93 L257.58,337.39 L258.22,337.84 L258.87,338.31 L259.51,338.78 L260.16,339.25 L260.80,339.72" fill="none" stroke="#222" stroke-width="1.4" stroke-dasharray="1.6 3.6"/>
<path d="M118.90,420.03 L119.33,418.23 L119.75,416.46 L120.18,414.70 L120.60,412.96 L121.03,411.23 L121.45,409.53 L121.88,407.85 L122.30,406.18 L122.73,404.53 L123.15,402.90 L123.58,401.29 L124.00,399.69 L124.43,398.11 L124.85,396.55 L125.28,395.01 L125.70,393.49 L126.13,391.98 L126.55,390.49 L126.98,389.02 L127.40,387.57 L127.83,386.13 L128.25,384.71 L128.68,383.31 L129.11,381.92 L129.53,380.55 L129.96,379.20 L130.38,377.87 L130.81,376.55 L131.23,375.24 L131.66,373.96 L132.08,372.69 L132.51,371.44 L132.93,370.20 L133.36,368.98 L133.78,367.78 L134.21,366.59 L134.63,365.42 L135.06,364.26 L135.48,363.12 L135.91,362.00 L136.33,360.89 L136.76,359.79 L137.18,358.72 L137.61,357.65 L138.03,356.61 L138.46,355.57 L138.88,354.56 L139.31,353.56 L139.74,352.57 L140.16,351.60 L140.59,350.64 L141.01,349.70 L141.44,348.77 L141.86,347.86 L142.29,346.96 L142.71,346.08 L143.14,345.21 L143.56,344.36 L143.99,343.51 L144.41,342.69 L144.84,341.88 L145.26,341.08 L145.69,340.29 L146.11,339.52 L146.54,338.77 L146.96,338.02 L147.39,337.30 L147.81,336.58 L148.24,335.88 L148.66,335.19 L149.09,334.51 L149.52,333.85 L149.94,333.20 L150.37,332.57 L150.79,331.94 L151.22,331.33 L151.64,330.73 L152.07,330.15 L152.49,329.58 L152.92,329.02 L153.34,328.47 L153.77,327.94 L154.19,327.42 L154.62,326.91 L155.04,326.41 L155.47,325.92 L155.89,325.45 L156.32,324.99 L156.74,324.54 L157.17,324.10 L157.59,323.68 L158.02,323.26 L158.44,322.86 L158.87,322.47 L159.29,322.09 L159.72,321.72 L160.15,321.36 L160.57,321.02 L161.00,320.68 L161.42,320.36 L161.85,320.05 L162.27,319.75 L162.70,319.45 L163.12,319.17 L163.55,318.90 L163.97,318.65 L164.40,318.40 L164.82,318.16 L165.25,317.93 L165.67,317.71 L166.10,317.51 L166.52,317.31 L166.95,317.12 L167.37,316.94 L167.80,316.78 L168.22,316.62 L168.65,316.47 L169.07,316.33 L169.50,316.20 L169.50,316.23 L169.96,316.55 L170.43,316.87 L170.89,317.18 L171.36,317.50 L171.82,317.81 L172.29,318.12 L172.75,318.43 L173.21,318.74 L173.68,319.05 L174.14,319.36 L174.61,319.66 L175.07,319.97 L175.54,320.27 L176.00,320.58 L176.46,320.88 L176.93,321.18 L177.39,321.47 L177.86,321.77 L178.32,322.07 L178.79,322.36 L179.25,322.65 L179.72,322.95 L180.18,323.24 L180.64,323.52 L181.11,323.81 L181.57,324.09 L182.04,324.38 L182.50,324.66 L182.97,324.94 L183.43,325.22 L183.89,325.50 L184.36,325.77 L184.82,326.05 L185.29,326.32 L185.75,326.60 L186.22,326.87 L186.68,327.14 L187.14,327.41 L187.61,327.68 L188.07,327.95 L188.54,328.22 L189.00,328.48 L189.47,328.75 L189.93,329.02 L190.39,329.29 L190.86,329.55 L191.32,329.82 L191.79,330.09 L192.25,330.36 L192.72,330.62 L193.18,330.89 L193.64,331.16 L194.11,331.43 L194.57,331.70 L195.04,331.97 L195.50,332.24 L195.97,332.51 L196.43,332.78 L196.89,333.06 L197.36,333.33 L197.82,333.60 L198.29,333.88 L198.75,334.15 L199.22,334.42 L199.68,334.70 L200.15,334.97 L200.61,335.24 L201.07,335.52 L201.54,335.79 L202.00,336.06 L202.47,336.33 L202.93,336.60 L203.40,336.87 L203.86,337.13 L204.32,337.40 L204.79,337.66 L205.25,337.93 L205.72,338.19 L206.18,338.45 L206.65,338.71 L207.11,338.96 L207.57,339.22 L208.04,339.47 L208.50,339.72 L208.97,339.96 L209.43,340.21 L209.90,340.45 L210.36,340.69 L210.82,340.92 L211.29,341.16 L211.75,341.39 L212.22,341.62 L212.68,341.85 L213.15,342.07 L213.61,342.30 L214.07,342.53 L214.54,342.75 L215.00,342.97 L215.47,343.20 L215.93,343.42 L216.40,343.64 L216.86,343.85 L217.33,344.07 L217.79,344.29 L218.25,344.50 L218.72,344.72 L219.18,344.93 L219.65,345.14 L220.11,345.36 L220.58,345.57 L221.04,345.78 L221.50,345.98 L221.97,346.19 L222.43,346.40 L222.90,346.60 L223.36,346.81 L223.83,347.01 L224.29,347.21 L224.75,347.41 L225.22,347.61 L225.68,347.81 L226.15,348.01 L226.61,348.21 L227.08,348.41 L227.54,348.60 L228.00,348.80 L228.47,348.99 L228.93,349.19 L229.40,349.38 L229.86,349.57 L230.33,349.76 L230.79,349.95 L231.25,350.14 L231.72,350.33 L232.18,350.51 L232.65,350.70 L233.11,350.88 L233.58,351.07 L234.04,351.25 L234.51,351.44 L234.97,351.62 L235.43,351.80 L235.90,351.98 L236.36,352.16 L236.83,352.34 L237.29,352.52 L237.76,352.70 L238.22,352.87 L238.68,353.05 L239.15,353.23 L239.61,353.40 L240.08,353.58 L240.54,353.75 L241.01,353.93 L241.47,354.10 L241.93,354.27 L242.40,354.44 L242.86,354.61 L243.33,354.78 L243.79,354.95 L244.26,355.12 L244.72,355.29 L245.18,355.46 L245.65,355.63 L246.11,355.79 L246.58,355.96 L247.04,356.12 L247.51,356.29 L247.97,356.45 L248.43,356.62 L248.90,356.78 L249.36,356.94 L249.83,357.10 L250.29,357.26 L250.76,357.42 L251.22,357.58 L251.68,357.73 L252.15,357.89 L252.61,358.05 L253.08,358.20 L253.54,358.36 L254.01,358.51 L254.47,358.66 L254.94,358.82 L255.40,358.97 L255.86,359.12 L256.33,359.27 L256.79,359.42 L257.26,359.56 L257.72,359.71 L258.19,359.86 L258.65,360.00 L259.11,360.15 L259.58,360.29 L260.04,360.43 L260.51,360.58 L260.97,360.72 L261.44,360.86 L261.90,361.00" fill="none" stroke="#111" stroke-width="1.55" stroke-linejoin="round"/>
<path d="M77.0,287.7 V463.3 H262.5" stroke="#333" stroke-width="1.4" fill="none" stroke-linejoin="miter"/>
<text class="tk" x="72.9" y="458.6" text-anchor="end">0</text>
<text class="tk" x="72.9" y="425.4" text-anchor="end">3</text>
<text class="tk" x="72.9" y="392.1" text-anchor="end">6</text>
<text class="tk" x="72.9" y="358.9" text-anchor="end">9</text>
<text class="tk" x="72.9" y="325.6" text-anchor="end">12</text>
<text class="tk" x="72.9" y="292.4" text-anchor="end">15</text>
<path d="M77.0,454.40 h3.6 M77.0,421.16 h3.6 M77.0,387.92 h3.6 M77.0,354.68 h3.6 M77.0,321.44 h3.6 M77.0,288.20 h3.6 " stroke="#333" stroke-width="1.1" fill="none"/>
<text class="tk" x="85.9" y="477.9" text-anchor="middle">0</text>
<text class="tk" x="107.9" y="477.9" text-anchor="middle">10</text>
<text class="tk" x="129.9" y="477.9" text-anchor="middle">20</text>
<text class="tk" x="151.9" y="477.9" text-anchor="middle">30</text>
<text class="tk" x="173.9" y="477.9" text-anchor="middle">40</text>
<text class="tk" x="195.9" y="477.9" text-anchor="middle">50</text>
<text class="tk" x="217.9" y="477.9" text-anchor="middle">60</text>
<text class="tk" x="239.9" y="477.9" text-anchor="middle">70</text>
<text class="tk" x="261.9" y="477.9" text-anchor="middle">80</text>
<path d="M85.90,463.3 v-3.6 M107.90,463.3 v-3.6 M129.90,463.3 v-3.6 M151.90,463.3 v-3.6 M173.90,463.3 v-3.6 M195.90,463.3 v-3.6 M217.90,463.3 v-3.6 M239.90,463.3 v-3.6 M261.90,463.3 v-3.6 " stroke="#333" stroke-width="1.1" fill="none"/>
<text class="tk" x="90.5" y="284.6">F5</text>
<text class="xl" x="169.3" y="497.7" text-anchor="middle"><tspan class="cjk">林龄</tspan> Age/a</text>
<text class="ycjk" transform="translate(19.0,376.3) rotate(-90)" text-anchor="middle">年均蓄积生长量</text>
<text class="ylat" transform="translate(34.9,370.4) rotate(-90)" text-anchor="middle" textLength="148.8" lengthAdjust="spacingAndGlyphs">Mean annual increment of stand</text>
<text class="ylat" transform="translate(48.6,375.8) rotate(-90)" text-anchor="middle" textLength="107.5" lengthAdjust="spacingAndGlyphs">volume/(m<tspan class="sup" dy="-4">3</tspan><tspan dy="4">·hm</tspan><tspan class="sup" dy="-4">−2</tspan><tspan dy="4"> a</tspan><tspan class="sup" dy="-4">−1</tspan><tspan dy="4">)</tspan></text>
</g>
<g>
<rect x="340.9" y="288.2" width="66.0" height="175.1" fill="#e6e7e8"/>
<line x1="437.70" y1="288.2" x2="437.70" y2="463.3" stroke="#4a4a4a" stroke-width="1.3"/>
<line x1="455.30" y1="288.2" x2="455.30" y2="463.3" stroke="#1a1a1a" stroke-width="1.25" stroke-dasharray="5 2 1.4 2" stroke-dashoffset="2.5"/>
<path d="M387.10,431.78 L389.30,429.01 L392.82,425.50 L396.78,423.47 L400.96,422.08 L403.38,418.76 L406.57,417.47 L406.57,417.47 L407.12,416.95 L407.68,416.38 L408.23,415.76 L408.79,415.10 L409.34,414.40 L409.90,413.65 L410.45,412.79 L411.01,411.86 L411.56,410.91 L412.11,409.96 L412.67,409.05 L413.22,408.21 L413.78,407.41 L414.33,406.63 L414.89,405.85 L415.44,405.08 L416.00,404.29 L416.55,403.48 L417.10,402.67 L417.66,401.86 L418.21,401.04 L418.77,400.22 L419.32,399.40 L419.88,398.57 L420.43,397.75 L420.98,396.88 L421.54,396.00 L422.09,395.11 L422.65,394.24 L423.20,393.41 L423.76,392.64 L424.31,391.95 L424.87,391.31 L425.42,390.69 L425.97,390.08 L426.53,389.50 L427.08,388.93 L427.64,388.38 L428.19,387.84 L428.75,387.31 L429.30,386.80 L429.86,386.30 L430.41,385.81 L430.96,385.34 L431.52,384.87 L432.07,384.41 L432.63,383.95 L433.18,383.51 L433.74,383.07 L434.29,382.64 L434.85,382.21 L435.40,381.78 L435.95,381.36 L436.51,380.94 L437.06,380.52 L437.62,380.12 L438.17,379.83 L438.73,379.55 L439.28,379.27 L439.84,379.00 L440.39,378.73 L440.94,378.46 L441.50,378.19 L442.05,377.94 L442.61,377.69 L443.16,377.45 L443.72,377.21 L444.27,376.99 L444.83,376.77 L445.38,376.57 L445.93,376.38 L446.49,376.20 L447.04,376.03 L447.60,375.88 L448.15,375.74 L448.71,375.62 L449.26,375.52 L449.81,375.43 L450.37,375.36 L450.92,375.31 L451.48,375.28 L452.03,375.27 L452.59,375.28 L453.14,375.29 L453.70,375.32 L454.25,375.35 L454.80,375.39 L455.36,375.44 L455.91,375.49 L456.47,375.56 L457.02,375.63 L457.58,375.70 L458.13,375.78 L458.69,375.86 L459.24,375.95 L459.79,376.05 L460.35,376.14 L460.90,376.24 L461.46,376.34 L462.01,376.44 L462.57,376.55 L463.12,376.65 L463.68,376.76 L464.23,376.87 L464.78,376.98 L465.34,377.11 L465.89,377.25 L466.45,377.41 L467.00,377.57 L467.56,377.75 L468.11,377.93 L468.67,378.12 L469.22,378.33 L469.77,378.53 L470.33,378.75 L470.88,378.97 L471.44,379.19 L471.99,379.42 L472.55,379.65 L473.10,379.89 L473.66,380.12 L474.21,380.36 L474.76,380.59 L475.32,380.83 L475.87,381.06 L476.43,381.29 L476.98,381.51 L477.54,381.74 L478.09,381.96 L478.64,382.18 L479.20,382.40 L479.75,382.62 L480.31,382.84 L480.86,383.07 L481.42,383.29 L481.97,383.52 L482.53,383.74 L483.08,383.97 L483.63,384.20 L484.19,384.43 L484.74,384.66 L485.30,384.90 L485.85,385.13 L486.41,385.37 L486.96,385.61 L487.52,385.86 L488.07,386.10 L488.62,386.35 L489.18,386.60 L489.73,386.86 L490.29,387.11 L490.84,387.37 L491.40,387.64 L491.95,387.91 L492.51,388.18 L493.06,388.45 L493.61,388.73 L494.17,389.02 L494.72,389.31 L495.28,389.60 L495.83,389.90 L496.39,390.20 L496.94,390.51 L497.50,390.83 L498.05,391.16 L498.60,391.50 L499.16,391.85 L499.71,392.21 L500.27,392.58 L500.82,392.96 L501.38,393.34 L501.93,393.73 L502.49,394.13 L503.04,394.53 L503.59,394.93 L504.15,395.34 L504.70,395.75 L505.26,396.17 L505.81,396.58 L506.37,397.00 L506.92,397.42 L507.47,397.84 L508.03,398.26 L508.58,398.68 L509.14,399.10 L509.69,399.51 L510.25,399.92 L510.80,400.33 L511.36,400.74 L511.91,401.14 L512.46,401.53 L513.02,401.92 L513.57,402.31 L514.13,402.68 L514.68,403.06 L515.24,403.43 L515.79,403.80 L516.35,404.17 L516.90,404.54" fill="none" stroke="#9a9a9a" stroke-width="1.4" stroke-dasharray="1.6 3.6"/>
<path d="M398.10,417.00 L398.70,416.35 L399.29,415.66 L399.89,414.94 L400.49,414.19 L401.08,413.41 L401.68,412.60 L402.28,411.78 L402.88,410.93 L403.47,410.06 L404.07,409.18 L404.67,408.28 L405.26,407.31 L405.86,406.26 L406.46,405.23 L407.05,404.32 L407.65,403.51 L408.25,402.75 L408.85,402.04 L409.44,401.35 L410.04,400.69 L410.64,400.02 L411.23,399.34 L411.83,398.63 L412.43,397.88 L413.02,397.09 L413.62,396.26 L414.22,395.40 L414.82,394.51 L415.41,393.59 L416.01,392.64 L416.61,391.66 L417.20,390.62 L417.80,389.46 L418.40,388.23 L418.99,386.98 L419.59,385.74 L420.19,384.56 L420.79,383.49 L421.38,382.58 L421.98,381.74 L422.58,380.93 L423.17,380.17 L423.77,379.44 L424.37,378.74 L424.96,378.07 L425.56,377.42 L426.16,376.79 L426.76,376.18 L427.35,375.58 L427.95,375.00 L428.55,374.41 L429.14,373.83 L429.74,373.25 L430.34,372.66 L430.93,372.07 L431.53,371.48 L432.13,370.91 L432.73,370.34 L433.32,369.79 L433.92,369.27 L434.52,368.77 L435.11,368.29 L435.71,367.85 L436.31,367.45 L436.90,367.09 L437.50,366.78 L438.10,366.50 L438.69,366.23 L439.29,365.96 L439.89,365.69 L440.49,365.43 L441.08,365.18 L441.68,364.93 L442.28,364.68 L442.87,364.45 L443.47,364.22 L444.07,364.01 L444.66,363.80 L445.26,363.61 L445.86,363.43 L446.46,363.26 L447.05,363.11 L447.65,362.97 L448.25,362.85 L448.84,362.75 L449.44,362.66 L450.04,362.60 L450.63,362.56 L451.23,362.53 L451.83,362.53 L452.43,362.55 L453.02,362.59 L453.62,362.64 L454.22,362.69 L454.81,362.75 L455.41,362.82 L456.01,362.89 L456.60,362.96 L457.20,363.05 L457.80,363.14 L458.40,363.25 L458.99,363.36 L459.59,363.48 L460.19,363.60 L460.78,363.74 L461.38,363.88 L461.98,364.02 L462.57,364.18 L463.17,364.34 L463.77,364.50 L464.37,364.67 L464.96,364.85 L465.56,365.03 L466.16,365.21 L466.75,365.40 L467.35,365.60 L467.95,365.80 L468.54,366.00 L469.14,366.20 L469.74,366.41 L470.34,366.62 L470.93,366.83 L471.53,367.05 L472.13,367.26 L472.72,367.48 L473.32,367.70 L473.92,367.92 L474.51,368.14 L475.11,368.36 L475.71,368.59 L476.31,368.81 L476.90,369.03 L477.50,369.25 L478.10,369.48 L478.69,369.71 L479.29,369.95 L479.89,370.20 L480.48,370.46 L481.08,370.72 L481.68,370.99 L482.27,371.26 L482.87,371.54 L483.47,371.82 L484.07,372.11 L484.66,372.41 L485.26,372.70 L485.86,373.01 L486.45,373.31 L487.05,373.62 L487.65,373.94 L488.24,374.25 L488.84,374.57 L489.44,374.90 L490.04,375.22 L490.63,375.55 L491.23,375.88 L491.83,376.21 L492.42,376.54 L493.02,376.87 L493.62,377.20 L494.21,377.54 L494.81,377.87 L495.41,378.20 L496.01,378.54 L496.60,378.87 L497.20,379.20 L497.80,379.54 L498.39,379.88 L498.99,380.22 L499.59,380.57 L500.18,380.92 L500.78,381.27 L501.38,381.62 L501.98,381.97 L502.57,382.33 L503.17,382.69 L503.77,383.05 L504.36,383.42 L504.96,383.78 L505.56,384.15 L506.15,384.53 L506.75,384.90 L507.35,385.28 L507.95,385.66 L508.54,386.04 L509.14,386.42 L509.74,386.81 L510.33,387.20 L510.93,387.59 L511.53,387.98 L512.12,388.38 L512.72,388.77 L513.32,389.17 L513.92,389.57 L514.51,389.98 L515.11,390.38 L515.71,390.79 L516.30,391.20 L516.90,391.61" fill="none" stroke="#222" stroke-width="1.4" stroke-dasharray="1.6 3.6"/>
<path d="M373.90,450.06 L374.15,449.70 L374.40,449.34 L374.64,448.97 L374.89,448.61 L375.14,448.25 L375.39,447.89 L375.63,447.53 L375.88,447.17 L376.13,446.81 L376.38,446.45 L376.62,446.09 L376.87,445.73 L377.12,445.37 L377.37,445.01 L377.61,444.65 L377.86,444.29 L378.11,443.94 L378.36,443.58 L378.61,443.22 L378.85,442.86 L379.10,442.51 L379.35,442.15 L379.60,441.79 L379.84,441.44 L380.09,441.08 L380.34,440.73 L380.59,440.37 L380.83,440.02 L381.08,439.66 L381.33,439.31 L381.58,438.95 L381.82,438.59 L382.07,438.24 L382.32,437.88 L382.57,437.52 L382.81,437.16 L383.06,436.81 L383.31,436.45 L383.56,436.09 L383.81,435.73 L384.05,435.38 L384.30,435.02 L384.55,434.67 L384.80,434.31 L385.04,433.96 L385.29,433.60 L385.54,433.25 L385.79,432.90 L386.03,432.55 L386.28,432.20 L386.53,431.86 L386.78,431.51 L387.02,431.17 L387.27,430.83 L387.52,430.49 L387.77,430.15 L388.02,429.81 L388.26,429.48 L388.51,429.14 L388.76,428.81 L389.01,428.48 L389.25,428.16 L389.50,427.84 L389.75,427.52 L390.00,427.20 L390.24,426.88 L390.49,426.57 L390.74,426.25 L390.99,425.94 L391.23,425.63 L391.48,425.32 L391.73,425.02 L391.98,424.71 L392.23,424.40 L392.47,424.10 L392.72,423.79 L392.97,423.49 L393.22,423.19 L393.46,422.88 L393.71,422.58 L393.96,422.27 L394.21,421.97 L394.45,421.67 L394.70,421.36 L394.95,421.05 L395.20,420.75 L395.44,420.44 L395.69,420.13 L395.94,419.82 L396.19,419.51 L396.44,419.20 L396.68,418.88 L396.93,418.57 L397.18,418.25 L397.43,417.93 L397.67,417.61 L397.92,417.28 L398.17,416.95 L398.42,416.63 L398.66,416.30 L398.91,415.97 L399.16,415.64 L399.41,415.31 L399.65,414.97 L399.90,414.64 L400.15,414.31 L400.40,413.97 L400.64,413.64 L400.89,413.30 L401.14,412.97 L401.39,412.64 L401.64,412.30 L401.88,411.97 L402.13,411.64 L402.38,411.31 L402.63,410.98 L402.87,410.65 L403.12,410.33 L403.37,410.00 L403.62,409.68 L403.86,409.36 L404.11,409.04 L404.36,408.72 L404.61,408.41 L404.85,408.10 L405.10,407.79 L405.35,407.48 L405.60,407.18 L405.85,406.88 L406.09,406.58 L406.34,406.29 L406.59,406.00 L406.84,405.71 L407.08,405.42 L407.33,405.14 L407.58,404.85 L407.83,404.57 L408.07,404.29 L408.32,404.01 L408.57,403.74 L408.82,403.46 L409.06,403.19 L409.31,402.92 L409.56,402.64 L409.81,402.37 L410.06,402.11 L410.30,401.84 L410.55,401.57 L410.80,401.31 L411.05,401.05 L411.29,400.79 L411.54,400.53 L411.79,400.27 L412.04,400.01 L412.28,399.76 L412.53,399.51 L412.78,399.25 L413.03,399.00 L413.27,398.75 L413.52,398.51 L413.77,398.26 L414.02,398.02 L414.27,397.77 L414.51,397.53 L414.76,397.29 L415.01,397.05 L415.26,396.81 L415.50,396.58 L415.75,396.34 L416.00,396.11 L416.25,395.87 L416.49,395.64 L416.74,395.41 L416.99,395.18 L417.24,394.95 L417.48,394.73 L417.73,394.50 L417.98,394.28 L418.23,394.06 L418.47,393.85 L418.72,393.64 L418.97,393.43 L419.22,393.23 L419.47,393.03 L419.71,392.83 L419.96,392.64 L420.21,392.46 L420.46,392.27 L420.70,392.10 L420.95,391.92 L421.20,391.75 L421.45,391.58 L421.69,391.42 L421.94,391.26 L422.19,391.10 L422.44,390.95 L422.68,390.80 L422.93,390.65 L423.18,390.51 L423.18,390.51 L423.65,390.17 L424.12,389.85 L424.59,389.55 L425.06,389.30 L425.53,389.11 L426.01,388.99 L426.48,388.89 L426.95,388.81 L427.42,388.73 L427.89,388.66 L428.36,388.59 L428.83,388.54 L429.30,388.49 L429.77,388.45 L430.24,388.42 L430.72,388.39 L431.19,388.38 L431.66,388.37 L432.13,388.36 L432.60,388.35 L433.07,388.34 L433.54,388.33 L434.01,388.32 L434.48,388.31 L434.95,388.31 L435.42,388.30 L435.90,388.30 L436.37,388.29 L436.84,388.29 L437.31,388.29 L437.78,388.29 L438.25,388.29 L438.72,388.31 L439.19,388.32 L439.66,388.35 L440.13,388.38 L440.61,388.41 L441.08,388.45 L441.55,388.50 L442.02,388.55 L442.49,388.61 L442.96,388.67 L443.43,388.73 L443.90,388.80 L444.37,388.87 L444.84,388.95 L445.31,389.03 L445.79,389.11 L446.26,389.20 L446.73,389.29 L447.20,389.38 L447.67,389.48 L448.14,389.57 L448.61,389.67 L449.08,389.77 L449.55,389.87 L450.02,389.98 L450.50,390.08 L450.97,390.19 L451.44,390.29 L451.91,390.40 L452.38,390.50 L452.85,390.61 L453.32,390.72 L453.79,390.82 L454.26,390.93 L454.73,391.03 L455.20,391.13 L455.68,391.23 L456.15,391.34 L456.62,391.45 L457.09,391.57 L457.56,391.69 L458.03,391.81 L458.50,391.93 L458.97,392.06 L459.44,392.20 L459.91,392.33 L460.39,392.47 L460.86,392.61 L461.33,392.76 L461.80,392.90 L462.27,393.05 L462.74,393.20 L463.21,393.36 L463.68,393.52 L464.15,393.67 L464.62,393.84 L465.09,394.00 L465.57,394.16 L466.04,394.33 L466.51,394.50 L466.98,394.66 L467.45,394.83 L467.92,395.00 L468.39,395.18 L468.86,395.35 L469.33,395.52 L469.80,395.70 L470.28,395.87 L470.75,396.05 L471.22,396.22 L471.69,396.40 L472.16,396.57 L472.63,396.75 L473.10,396.92 L473.57,397.09 L474.04,397.27 L474.51,397.44 L474.99,397.61 L475.46,397.79 L475.93,397.96 L476.40,398.13 L476.87,398.29 L477.34,398.46 L477.81,398.63 L478.28,398.79 L478.75,398.96 L479.22,399.13 L479.69,399.29 L480.17,399.46 L480.64,399.63 L481.11,399.80 L481.58,399.97 L482.05,400.14 L482.52,400.31 L482.99,400.48 L483.46,400.65 L483.93,400.82 L484.40,400.99 L484.88,401.16 L485.35,401.33 L485.82,401.50 L486.29,401.67 L486.76,401.84 L487.23,402.02 L487.70,402.19 L488.17,402.36 L488.64,402.54 L489.11,402.71 L489.58,402.88 L490.06,403.06 L490.53,403.23 L491.00,403.41 L491.47,403.58 L491.94,403.76 L492.41,403.94 L492.88,404.11 L493.35,404.29 L493.82,404.47 L494.29,404.64 L494.77,404.82 L495.24,405.00 L495.71,405.18 L496.18,405.36 L496.65,405.54 L497.12,405.72 L497.59,405.90 L498.06,406.08 L498.53,406.26 L499.00,406.44 L499.47,406.62 L499.95,406.80 L500.42,406.98 L500.89,407.17 L501.36,407.35 L501.83,407.53 L502.30,407.72 L502.77,407.90 L503.24,408.08 L503.71,408.27 L504.18,408.45 L504.66,408.64 L505.13,408.82 L505.60,409.01 L506.07,409.20 L506.54,409.38 L507.01,409.57 L507.48,409.76 L507.95,409.95 L508.42,410.13 L508.89,410.32 L509.36,410.51 L509.84,410.70 L510.31,410.89 L510.78,411.08 L511.25,411.27 L511.72,411.46 L512.19,411.65 L512.66,411.85 L513.13,412.04 L513.60,412.23 L514.07,412.42 L514.55,412.62 L515.02,412.81 L515.49,413.00 L515.96,413.20 L516.43,413.39 L516.90,413.59" fill="none" stroke="#111" stroke-width="1.55" stroke-linejoin="round"/>
<path d="M332.0,287.7 V463.3 H517.5" stroke="#333" stroke-width="1.4" fill="none" stroke-linejoin="miter"/>
<text class="tk" x="327.9" y="458.6" text-anchor="end">0</text>
<text class="tk" x="327.9" y="430.9" text-anchor="end">3</text>
<text class="tk" x="327.9" y="403.2" text-anchor="end">6</text>
<text class="tk" x="327.9" y="375.5" text-anchor="end">9</text>
<text class="tk" x="327.9" y="347.8" text-anchor="end">12</text>
<text class="tk" x="327.9" y="320.1" text-anchor="end">15</text>
<text class="tk" x="327.9" y="292.4" text-anchor="end">18</text>
<path d="M332.0,454.40 h3.6 M332.0,426.70 h3.6 M332.0,399.00 h3.6 M332.0,371.30 h3.6 M332.0,343.60 h3.6 M332.0,315.90 h3.6 M332.0,288.20 h3.6 " stroke="#333" stroke-width="1.1" fill="none"/>
<text class="tk" x="340.9" y="477.9" text-anchor="middle">0</text>
<text class="tk" x="362.9" y="477.9" text-anchor="middle">10</text>
<text class="tk" x="384.9" y="477.9" text-anchor="middle">20</text>
<text class="tk" x="406.9" y="477.9" text-anchor="middle">30</text>
<text class="tk" x="428.9" y="477.9" text-anchor="middle">40</text>
<text class="tk" x="450.9" y="477.9" text-anchor="middle">50</text>
<text class="tk" x="472.9" y="477.9" text-anchor="middle">60</text>
<text class="tk" x="494.9" y="477.9" text-anchor="middle">70</text>
<text class="tk" x="516.9" y="477.9" text-anchor="middle">80</text>
<path d="M340.90,463.3 v-3.6 M362.90,463.3 v-3.6 M384.90,463.3 v-3.6 M406.90,463.3 v-3.6 M428.90,463.3 v-3.6 M450.90,463.3 v-3.6 M472.90,463.3 v-3.6 M494.90,463.3 v-3.6 M516.90,463.3 v-3.6 " stroke="#333" stroke-width="1.1" fill="none"/>
<text class="tk" x="345.5" y="284.6">F5</text>
<text class="xl" x="424.3" y="497.7" text-anchor="middle"><tspan class="cjk">林龄</tspan> Age/a</text>
<text class="ycjk" transform="translate(286.9,372.3) rotate(-90)" text-anchor="middle">总净现值</text>
<text class="ylat" transform="translate(303.8,373.3) rotate(-90)" text-anchor="middle" textLength="208" lengthAdjust="spacingAndGlyphs">Total net present value/( <tspan class="tm" dy="1.5">×</tspan><tspan dy="-1.5"> 10</tspan><tspan class="sup" dy="-4">4</tspan><tspan dy="4"> yuan·hm</tspan><tspan class="sup" dy="-4">−2</tspan><tspan dy="4">)</tspan></text>
</g>
<g>
<rect x="611.1" y="288.2" width="66.0" height="175.1" fill="#e6e7e8"/>
<line x1="778.30" y1="288.2" x2="778.30" y2="463.3" stroke="#1a1a1a" stroke-width="1.25" stroke-dasharray="5 2 1.4 2" stroke-dashoffset="2.5"/>
<path d="M687.22,454.40 L687.59,453.97 L687.96,453.55 L688.32,453.12 L688.69,452.69 L689.06,452.25 L689.43,451.81 L689.80,451.37 L690.17,450.93 L690.53,450.49 L690.90,450.05 L691.27,449.61 L691.64,449.17 L692.01,448.73 L692.37,448.28 L692.74,447.84 L693.11,447.39 L693.48,446.93 L693.85,446.48 L694.21,446.01 L694.58,445.55 L694.95,445.07 L695.32,444.59 L695.69,444.10 L696.06,443.60 L696.42,443.10 L696.79,442.58 L697.16,442.05 L697.53,441.51 L697.90,440.97 L698.26,440.42 L698.63,439.86 L699.00,439.30 L699.37,438.74 L699.74,438.17 L700.10,437.61 L700.47,437.04 L700.84,436.47 L701.21,435.90 L701.58,435.33 L701.95,434.75 L702.31,434.16 L702.68,433.57 L703.05,432.98 L703.42,432.39 L703.79,431.80 L704.15,431.20 L704.52,430.60 L704.89,430.01 L705.26,429.41 L705.63,428.81 L706.00,428.22 L706.36,427.62 L706.73,427.03 L707.10,426.44 L707.47,425.86 L707.84,425.27 L708.20,424.70 L708.57,424.12 L708.94,423.54 L709.31,422.96 L709.68,422.38 L710.04,421.80 L710.41,421.21 L710.78,420.63 L711.15,420.05 L711.52,419.47 L711.89,418.89 L712.25,418.32 L712.62,417.74 L712.99,417.18 L713.36,416.62 L713.73,416.07 L714.09,415.52 L714.46,414.98 L714.83,414.45 L715.20,413.93 L715.57,413.42 L715.93,412.92 L716.30,412.42 L716.67,411.93 L717.04,411.44 L717.41,410.95 L717.78,410.46 L718.14,409.98 L718.51,409.50 L718.88,409.03 L719.25,408.56 L719.62,408.09 L719.98,407.63 L720.35,407.17 L720.72,406.72 L721.09,406.27 L721.46,405.82 L721.83,405.38 L722.19,404.94 L722.56,404.51 L722.93,404.08 L723.30,403.66 L723.67,403.24 L724.03,402.83 L724.40,402.42 L724.77,402.02 L725.14,401.62 L725.51,401.23 L725.87,400.85 L726.24,400.47 L726.61,400.10 L726.98,399.73 L727.35,399.37 L727.72,399.02 L728.08,398.67 L728.45,398.32 L728.82,397.98 L729.19,397.65 L729.56,397.32 L729.92,396.99 L730.29,396.67 L730.66,396.35 L731.03,396.04 L731.40,395.73 L731.77,395.42 L732.13,395.11 L732.50,394.80 L732.87,394.50 L733.24,394.20 L733.61,393.90 L733.97,393.59 L734.34,393.30 L734.71,393.00 L735.08,392.70 L735.45,392.40 L735.81,392.09 L736.18,391.79 L736.55,391.49 L736.92,391.18 L737.29,390.88 L737.66,390.57 L738.02,390.26 L738.39,389.95 L738.76,389.65 L739.13,389.34 L739.50,389.03 L739.86,388.73 L740.23,388.42 L740.60,388.12 L740.97,387.81 L741.34,387.51 L741.70,387.21 L742.07,386.91 L742.44,386.61 L742.81,386.32 L743.18,386.02 L743.55,385.73 L743.91,385.44 L744.28,385.15 L744.65,384.87 L745.02,384.59 L745.39,384.31 L745.75,384.03 L746.12,383.75 L746.49,383.47 L746.86,383.20 L747.23,382.93 L747.60,382.66 L747.96,382.39 L748.33,382.12 L748.70,381.86 L749.07,381.59 L749.44,381.33 L749.80,381.07 L750.17,380.81 L750.54,380.55 L750.91,380.29 L751.28,380.04 L751.64,379.78 L752.01,379.53 L752.38,379.28 L752.75,379.03 L753.12,378.78 L753.49,378.54 L753.85,378.29 L754.22,378.04 L754.59,377.80 L754.96,377.56 L755.33,377.32 L755.69,377.07 L756.06,376.84 L756.43,376.60 L756.80,376.36 L757.17,376.13 L757.53,375.89 L757.90,375.66 L758.27,375.43 L758.64,375.20 L759.01,374.97 L759.38,374.74 L759.74,374.52 L760.11,374.29 L760.48,374.07 L760.48,374.07 L760.61,374.06 L760.75,374.05 L760.88,374.03 L761.02,374.02 L761.15,374.01 L761.28,374.00 L761.42,373.98 L761.55,373.97 L761.68,373.96 L761.82,373.95 L761.95,373.94 L762.09,373.92 L762.22,373.91 L762.35,373.90 L762.49,373.89 L762.62,373.88 L762.75,373.86 L762.89,373.85 L763.02,373.84 L763.16,373.83 L763.29,373.82 L763.42,373.81 L763.56,373.80 L763.69,373.79 L763.82,373.78 L763.96,373.76 L764.09,373.75 L764.23,373.74 L764.36,373.73 L764.49,373.72 L764.63,373.71 L764.76,373.70 L764.89,373.70 L765.03,373.69 L765.16,373.68 L765.30,373.67 L765.43,373.66 L765.56,373.65 L765.70,373.64 L765.83,373.63 L765.96,373.63 L766.10,373.62 L766.23,373.61 L766.37,373.60 L766.50,373.60 L766.63,373.59 L766.77,373.58 L766.90,373.58 L767.03,373.57 L767.17,373.57 L767.30,373.56 L767.44,373.56 L767.57,373.55 L767.70,373.55 L767.84,373.54 L767.97,373.54 L768.10,373.53 L768.24,373.53 L768.37,373.53 L768.51,373.53 L768.64,373.52 L768.77,373.52 L768.91,373.52 L769.04,373.52 L769.17,373.52 L769.31,373.52 L769.44,373.52 L769.58,373.52 L769.71,373.52 L769.84,373.52 L769.98,373.52 L770.11,373.52 L770.25,373.52 L770.38,373.52 L770.51,373.52 L770.65,373.52 L770.78,373.52 L770.91,373.52 L771.05,373.52 L771.18,373.52 L771.32,373.52 L771.45,373.52 L771.58,373.52 L771.72,373.52 L771.85,373.52 L771.98,373.52 L772.12,373.52 L772.25,373.52 L772.39,373.52 L772.52,373.52 L772.65,373.52 L772.79,373.52 L772.92,373.52 L773.05,373.52 L773.19,373.52 L773.32,373.52 L773.46,373.52 L773.59,373.52 L773.72,373.52 L773.86,373.52 L773.99,373.52 L774.12,373.52 L774.26,373.52 L774.39,373.52 L774.53,373.52 L774.66,373.52 L774.79,373.52 L774.93,373.52 L775.06,373.52 L775.19,373.52 L775.33,373.52 L775.46,373.52 L775.60,373.52 L775.73,373.52 L775.86,373.52 L776.00,373.52 L776.13,373.52 L776.26,373.52 L776.40,373.52 L776.53,373.52 L776.67,373.52 L776.80,373.52 L776.93,373.52 L777.07,373.52 L777.20,373.52 L777.33,373.52 L777.47,373.52 L777.60,373.52 L777.74,373.52 L777.87,373.52 L778.00,373.52 L778.14,373.52 L778.27,373.52 L778.41,373.52 L778.54,373.52 L778.67,373.52 L778.81,373.52 L778.94,373.52 L779.07,373.52 L779.21,373.52 L779.34,373.53 L779.48,373.53 L779.61,373.53 L779.74,373.54 L779.88,373.54 L780.01,373.55 L780.14,373.55 L780.28,373.55 L780.41,373.56 L780.55,373.57 L780.68,373.57 L780.81,373.58 L780.95,373.58 L781.08,373.59 L781.21,373.60 L781.35,373.60 L781.48,373.61 L781.62,373.62 L781.75,373.63 L781.88,373.64 L782.02,373.64 L782.15,373.65 L782.28,373.66 L782.42,373.67 L782.55,373.68 L782.69,373.69 L782.82,373.70 L782.95,373.71 L783.09,373.72 L783.22,373.73 L783.35,373.74 L783.49,373.75 L783.62,373.76 L783.76,373.77 L783.89,373.78 L784.02,373.79 L784.16,373.80 L784.29,373.81 L784.42,373.83 L784.56,373.84 L784.69,373.85 L784.83,373.86 L784.96,373.87 L785.09,373.88 L785.23,373.90 L785.36,373.91 L785.49,373.92 L785.63,373.93 L785.76,373.94 L785.90,373.96 L786.03,373.97 L786.16,373.98 L786.30,373.99 L786.43,374.01 L786.56,374.02 L786.70,374.03 L786.83,374.04 L786.97,374.06 L787.10,374.07" fill="none" stroke="#222" stroke-width="1.4" stroke-dasharray="1.6 3.6"/>
<path d="M644.10,454.40 L685.90,454.40 L685.90,454.40 L686.41,454.40 L686.92,454.39 L687.43,454.38 L687.93,454.37 L688.44,454.35 L688.95,454.33 L689.46,454.31 L689.97,454.28 L690.48,454.25 L690.99,454.19 L691.49,454.13 L692.00,454.05 L692.51,453.95 L693.02,453.85 L693.53,453.74 L694.04,453.62 L694.55,453.50 L695.05,453.35 L695.56,453.17 L696.07,452.97 L696.58,452.74 L697.09,452.49 L697.60,452.22 L698.11,451.94 L698.61,451.64 L699.12,451.34 L699.63,451.03 L700.14,450.72 L700.65,450.41 L701.16,450.09 L701.66,449.75 L702.17,449.40 L702.68,449.04 L703.19,448.66 L703.70,448.27 L704.21,447.87 L704.72,447.46 L705.22,447.05 L705.73,446.63 L706.24,446.20 L706.75,445.77 L707.26,445.34 L707.77,444.91 L708.28,444.48 L708.78,444.05 L709.29,443.60 L709.80,443.15 L710.31,442.69 L710.82,442.22 L711.33,441.74 L711.84,441.27 L712.34,440.78 L712.85,440.30 L713.36,439.82 L713.87,439.34 L714.38,438.87 L714.89,438.40 L715.40,437.94 L715.90,437.48 L716.41,437.03 L716.92,436.58 L717.43,436.13 L717.94,435.68 L718.45,435.23 L718.96,434.78 L719.46,434.33 L719.97,433.89 L720.48,433.44 L720.99,433.00 L721.50,432.56 L722.01,432.12 L722.52,431.69 L723.02,431.26 L723.53,430.83 L724.04,430.41 L724.55,430.00 L725.06,429.58 L725.57,429.17 L726.07,428.77 L726.58,428.37 L727.09,427.98 L727.60,427.59 L728.11,427.20 L728.62,426.82 L729.13,426.44 L729.63,426.06 L730.14,425.68 L730.65,425.31 L731.16,424.94 L731.67,424.57 L732.18,424.21 L732.69,423.85 L733.19,423.49 L733.70,423.14 L734.21,422.79 L734.72,422.44 L735.23,422.10 L735.74,421.77 L736.25,421.44 L736.75,421.11 L737.26,420.79 L737.77,420.47 L738.28,420.16 L738.79,419.85 L739.30,419.54 L739.81,419.23 L740.31,418.93 L740.82,418.63 L741.33,418.33 L741.84,418.04 L742.35,417.74 L742.86,417.45 L743.37,417.17 L743.87,416.89 L744.38,416.60 L744.89,416.33 L745.40,416.05 L745.91,415.78 L746.42,415.51 L746.93,415.25 L747.43,414.98 L747.94,414.72 L748.45,414.46 L748.96,414.21 L749.47,413.96 L749.98,413.71 L750.48,413.46 L750.99,413.22 L751.50,412.97 L752.01,412.73 L752.52,412.49 L753.03,412.25 L753.54,412.02 L754.04,411.78 L754.55,411.55 L755.06,411.32 L755.57,411.09 L756.08,410.87 L756.59,410.65 L757.10,410.43 L757.60,410.21 L758.11,410.00 L758.62,409.79 L759.13,409.58 L759.64,409.38 L760.15,409.18 L760.66,408.98 L761.16,408.78 L761.67,408.59 L762.18,408.41 L762.69,408.22 L763.20,408.05 L763.71,407.87 L764.22,407.69 L764.72,407.52 L765.23,407.35 L765.74,407.18 L766.25,407.02 L766.76,406.86 L767.27,406.69 L767.78,406.53 L768.28,406.38 L768.79,406.22 L769.30,406.07 L769.81,405.92 L770.32,405.76 L770.83,405.61 L771.34,405.47 L771.84,405.32 L772.35,405.17 L772.86,405.03 L773.37,404.89 L773.88,404.74 L774.39,404.60 L774.89,404.46 L775.40,404.32 L775.91,404.18 L776.42,404.04 L776.93,403.90 L777.44,403.76 L777.95,403.62 L778.45,403.48 L778.96,403.35 L779.47,403.21 L779.98,403.08 L780.49,402.95 L781.00,402.82 L781.51,402.69 L782.01,402.56 L782.52,402.43 L783.03,402.30 L783.54,402.18 L784.05,402.05 L784.56,401.93 L785.07,401.81 L785.57,401.68 L786.08,401.56 L786.59,401.45 L787.10,401.33" fill="none" stroke="#111" stroke-width="1.55" stroke-linejoin="round"/>
<path d="M602.2,287.7 V463.3 H787.7" stroke="#333" stroke-width="1.4" fill="none" stroke-linejoin="miter"/>
<text class="tk" x="598.1" y="458.6" text-anchor="end">0</text>
<text class="tk" x="598.1" y="425.4" text-anchor="end">3</text>
<text class="tk" x="598.1" y="392.1" text-anchor="end">6</text>
<text class="tk" x="598.1" y="358.9" text-anchor="end">9</text>
<text class="tk" x="598.1" y="325.6" text-anchor="end">12</text>
<text class="tk" x="598.1" y="292.4" text-anchor="end">15</text>
<path d="M602.2,454.40 h3.6 M602.2,421.16 h3.6 M602.2,387.92 h3.6 M602.2,354.68 h3.6 M602.2,321.44 h3.6 M602.2,288.20 h3.6 " stroke="#333" stroke-width="1.1" fill="none"/>
<text class="tk" x="611.1" y="477.9" text-anchor="middle">0</text>
<text class="tk" x="633.1" y="477.9" text-anchor="middle">10</text>
<text class="tk" x="655.1" y="477.9" text-anchor="middle">20</text>
<text class="tk" x="677.1" y="477.9" text-anchor="middle">30</text>
<text class="tk" x="699.1" y="477.9" text-anchor="middle">40</text>
<text class="tk" x="721.1" y="477.9" text-anchor="middle">50</text>
<text class="tk" x="743.1" y="477.9" text-anchor="middle">60</text>
<text class="tk" x="765.1" y="477.9" text-anchor="middle">70</text>
<text class="tk" x="787.1" y="477.9" text-anchor="middle">80</text>
<path d="M611.10,463.3 v-3.6 M633.10,463.3 v-3.6 M655.10,463.3 v-3.6 M677.10,463.3 v-3.6 M699.10,463.3 v-3.6 M721.10,463.3 v-3.6 M743.10,463.3 v-3.6 M765.10,463.3 v-3.6 M787.10,463.3 v-3.6 " stroke="#333" stroke-width="1.1" fill="none"/>
<text class="tk" x="615.7" y="284.6">F5</text>
<text class="xl" x="694.5" y="497.7" text-anchor="middle"><tspan class="cjk">林龄</tspan> Age/a</text>
<text class="ycjk" transform="translate(548.3,376.4) rotate(-90)" text-anchor="middle">年均大径材材积生长量</text>
<text class="ylat" transform="translate(563.0,375.1) rotate(-90)" text-anchor="middle" textLength="203" lengthAdjust="spacingAndGlyphs">Mean annual increment of large diameter</text>
<text class="ylat" transform="translate(577.6,375.3) rotate(-90)" text-anchor="middle" textLength="142.3" lengthAdjust="spacingAndGlyphs">timber volume/(m<tspan class="sup" dy="-4">3</tspan><tspan dy="4">·hm</tspan><tspan class="sup" dy="-4">−2</tspan><tspan dy="4"> a</tspan><tspan class="sup" dy="-4">−1</tspan><tspan dy="4">)</tspan></text>
</g>
<line x1="173.6" y1="515.8" x2="198" y2="515.8" stroke="#9a9a9a" stroke-width="1.3" stroke-dasharray="1.6 2.8"/>
<text class="lg" x="199.8" y="519.8"><tspan class="cjk">伐后保留林分</tspan> Residual stand</text>
<line x1="361.5" y1="515.8" x2="386" y2="515.8" stroke="#222" stroke-width="1.3" stroke-dasharray="1.6 2.8"/>
<text class="lg" x="390.2" y="519.8"><tspan class="cjk">全林分</tspan> Whole stand</text>
<line x1="504" y1="515.8" x2="528" y2="515.8" stroke="#111" stroke-width="1.7"/>
<text class="lg" x="531.2" y="519.8"><tspan class="cjk">未间伐林分</tspan> Un-thinned stand</text>
</svg>
</body></html>
